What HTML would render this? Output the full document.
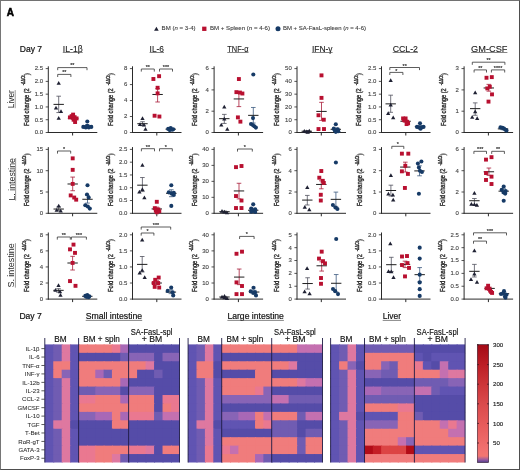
<!DOCTYPE html>
<html><head><meta charset="utf-8"><title>Figure</title>
<style>
html,body{margin:0;padding:0;background:#fff;}
body{width:520px;height:470px;overflow:hidden;}
svg{display:block;font-family:"Liberation Sans",sans-serif;will-change:transform;}
.frame{position:absolute;left:0;top:0;width:520px;height:470px;box-sizing:border-box;border-top:1px solid #727272;border-left:1px solid #767676;border-right:1px solid #4e4e4e;border-bottom:1px solid #4e4e4e;pointer-events:none;}
</style></head><body>
<svg width="520" height="470" viewBox="0 0 520 470" font-family="Liberation Sans, sans-serif">
<rect x="0" y="0" width="520" height="470" fill="#ffffff"/>
<text x="6.8" y="15.5" font-size="10.4" fill="#000" textLength="7.2" lengthAdjust="spacingAndGlyphs" font-weight="bold" stroke="#000" stroke-width="0.55">A</text>
<polygon points="154.1,30.7 158.7,30.7 156.4,26.7" fill="#1f2133"/>
<text x="161.6" y="30.2" font-size="6.2" fill="#3a3a3a" textLength="34" lengthAdjust="spacingAndGlyphs" stroke="#3a3a3a" stroke-width="0.1">BM (<tspan font-style="italic">n</tspan> = 3-4)</text>
<rect x="202.15" y="26.65" width="4.3" height="4.3" fill="#b81030"/>
<text x="210" y="30.2" font-size="6.2" fill="#3a3a3a" textLength="60" lengthAdjust="spacingAndGlyphs" stroke="#3a3a3a" stroke-width="0.1">BM + Spleen (<tspan font-style="italic">n</tspan> = 4-6)</text>
<circle cx="278" cy="28.7" r="2.5" fill="#163a66"/>
<text x="283" y="30.2" font-size="6.2" fill="#3a3a3a" textLength="83" lengthAdjust="spacingAndGlyphs" stroke="#3a3a3a" stroke-width="0.1">BM + SA-FasL-spleen (<tspan font-style="italic">n</tspan> = 4-6)</text>
<text x="19.8" y="51.9" font-size="8.6" fill="#111" textLength="22.3" lengthAdjust="spacingAndGlyphs" stroke="#111" stroke-width="0.2">Day 7</text>
<text x="62.8" y="51.5" font-size="8.5" fill="#1a1a1a" textLength="19.9" lengthAdjust="spacingAndGlyphs" stroke="#1a1a1a" stroke-width="0.1">IL-1β</text>
<line x1="62.8" y1="52.5" x2="82.7" y2="52.5" stroke="#444" stroke-width="0.65"/>
<text x="149.6" y="51.5" font-size="8.5" fill="#1a1a1a" textLength="14.4" lengthAdjust="spacingAndGlyphs" stroke="#1a1a1a" stroke-width="0.1">IL-6</text>
<line x1="149.6" y1="52.5" x2="164" y2="52.5" stroke="#444" stroke-width="0.65"/>
<text x="227.3" y="51.5" font-size="8.5" fill="#1a1a1a" textLength="21.2" lengthAdjust="spacingAndGlyphs" stroke="#1a1a1a" stroke-width="0.1">TNF-α</text>
<line x1="227.3" y1="52.5" x2="248.5" y2="52.5" stroke="#444" stroke-width="0.65"/>
<text x="311.9" y="51.5" font-size="8.5" fill="#1a1a1a" textLength="20.7" lengthAdjust="spacingAndGlyphs" stroke="#1a1a1a" stroke-width="0.1">IFN-γ</text>
<line x1="311.9" y1="52.5" x2="332.6" y2="52.5" stroke="#444" stroke-width="0.65"/>
<text x="392.7" y="51.5" font-size="8.5" fill="#1a1a1a" textLength="25.3" lengthAdjust="spacingAndGlyphs" stroke="#1a1a1a" stroke-width="0.1">CCL-2</text>
<line x1="392.7" y1="52.5" x2="418" y2="52.5" stroke="#444" stroke-width="0.65"/>
<text x="471.1" y="51.5" font-size="8.5" fill="#1a1a1a" textLength="36.3" lengthAdjust="spacingAndGlyphs" stroke="#1a1a1a" stroke-width="0.1">GM-CSF</text>
<line x1="471.1" y1="52.5" x2="507.4" y2="52.5" stroke="#444" stroke-width="0.65"/>
<text transform="translate(14.2,108.2) rotate(-90)" x="0" y="0" font-size="8.6" fill="#2a2a2a" textLength="18.1" lengthAdjust="spacingAndGlyphs">Liver</text>
<line x1="15.2" y1="108.2" x2="15.2" y2="90.1" stroke="#555" stroke-width="0.6"/>
<text transform="translate(14.6,200.6) rotate(-90)" x="0" y="0" font-size="8.6" fill="#2a2a2a" textLength="42.6" lengthAdjust="spacingAndGlyphs">L. intestine</text>
<line x1="15.6" y1="200.6" x2="15.6" y2="158" stroke="#555" stroke-width="0.6"/>
<text transform="translate(14.4,287.6) rotate(-90)" x="0" y="0" font-size="8.6" fill="#2a2a2a" textLength="44.4" lengthAdjust="spacingAndGlyphs">S. intestine</text>
<line x1="15.4" y1="287.6" x2="15.4" y2="243.2" stroke="#555" stroke-width="0.6"/>
<line x1="48.3" y1="66.3" x2="48.3" y2="133" stroke="#2a2a2a" stroke-width="1"/>
<line x1="47.8" y1="132.5" x2="97.3" y2="132.5" stroke="#2a2a2a" stroke-width="1"/>
<line x1="72.6" y1="132.5" x2="72.6" y2="135.5" stroke="#2a2a2a" stroke-width="1"/>
<line x1="45.7" y1="132.5" x2="48.3" y2="132.5" stroke="#2a2a2a" stroke-width="0.8"/>
<text x="43.1" y="134.35" font-size="6" fill="#444" text-anchor="end" stroke="#444" stroke-width="0.12">0.0</text>
<line x1="45.7" y1="119.72" x2="48.3" y2="119.72" stroke="#2a2a2a" stroke-width="0.8"/>
<text x="43.1" y="121.57" font-size="6" fill="#444" text-anchor="end" stroke="#444" stroke-width="0.12">0.5</text>
<line x1="45.7" y1="106.94" x2="48.3" y2="106.94" stroke="#2a2a2a" stroke-width="0.8"/>
<text x="43.1" y="108.79" font-size="6" fill="#444" text-anchor="end" stroke="#444" stroke-width="0.12">1.0</text>
<line x1="45.7" y1="94.16" x2="48.3" y2="94.16" stroke="#2a2a2a" stroke-width="0.8"/>
<text x="43.1" y="96.01" font-size="6" fill="#444" text-anchor="end" stroke="#444" stroke-width="0.12">1.5</text>
<line x1="45.7" y1="81.38" x2="48.3" y2="81.38" stroke="#2a2a2a" stroke-width="0.8"/>
<text x="43.1" y="83.23" font-size="6" fill="#444" text-anchor="end" stroke="#444" stroke-width="0.12">2.0</text>
<line x1="45.7" y1="68.6" x2="48.3" y2="68.6" stroke="#2a2a2a" stroke-width="0.8"/>
<text x="43.1" y="70.45" font-size="6" fill="#444" text-anchor="end" stroke="#444" stroke-width="0.12">2.5</text>
<g transform="translate(28.5,126) rotate(-90)" fill="#333" stroke="#333" stroke-width="0.4">
<text x="0" y="0" font-size="7.8" textLength="37.68" lengthAdjust="spacingAndGlyphs">Fold change (2</text>
<text x="40.7" y="-3.2" font-size="4.6" textLength="9.91" lengthAdjust="spacingAndGlyphs">-ΔΔCt</text>
<text x="50.72" y="0" font-size="7.8" textLength="2.28" lengthAdjust="spacingAndGlyphs">)</text>
</g>
<line x1="58.7" y1="96.2" x2="58.7" y2="112.56" stroke="#50525e" stroke-width="0.8"/>
<line x1="56.4" y1="96.2" x2="61" y2="96.2" stroke="#50525e" stroke-width="0.8"/>
<line x1="56.4" y1="112.56" x2="61" y2="112.56" stroke="#50525e" stroke-width="0.8"/>
<line x1="53.5" y1="104.38" x2="63.9" y2="104.38" stroke="#1e1e1e" stroke-width="1"/>
<line x1="73.1" y1="117.42" x2="73.1" y2="119.46" stroke="#a81c38" stroke-width="0.8"/>
<line x1="70.8" y1="117.42" x2="75.4" y2="117.42" stroke="#a81c38" stroke-width="0.8"/>
<line x1="70.8" y1="119.46" x2="75.4" y2="119.46" stroke="#a81c38" stroke-width="0.8"/>
<line x1="67.9" y1="118.44" x2="78.3" y2="118.44" stroke="#1e1e1e" stroke-width="1"/>
<line x1="87.3" y1="124.83" x2="87.3" y2="126.62" stroke="#3c5a80" stroke-width="0.8"/>
<line x1="85" y1="124.83" x2="89.6" y2="124.83" stroke="#3c5a80" stroke-width="0.8"/>
<line x1="85" y1="126.62" x2="89.6" y2="126.62" stroke="#3c5a80" stroke-width="0.8"/>
<line x1="82.1" y1="125.85" x2="92.5" y2="125.85" stroke="#1e1e1e" stroke-width="1"/>
<polygon points="56.55,84.78 60.85,84.78 58.7,81.04" fill="#1f2133"/>
<polygon points="53.85,109.58 58.15,109.58 56,105.84" fill="#1f2133"/>
<polygon points="58.85,112.9 63.15,112.9 61,109.16" fill="#1f2133"/>
<polygon points="56.55,119.8 60.85,119.8 58.7,116.06" fill="#1f2133"/>
<rect x="71.15" y="112.66" width="3.9" height="3.9" fill="#b81030"/>
<rect x="69.65" y="114.19" width="3.9" height="3.9" fill="#b81030"/>
<rect x="67.95" y="115.47" width="3.9" height="3.9" fill="#b81030"/>
<rect x="72.65" y="115.21" width="3.9" height="3.9" fill="#b81030"/>
<rect x="74.65" y="116.49" width="3.9" height="3.9" fill="#b81030"/>
<rect x="73.15" y="120.07" width="3.9" height="3.9" fill="#b81030"/>
<rect x="71.65" y="117.77" width="3.9" height="3.9" fill="#b81030"/>
<circle cx="87.3" cy="121.51" r="2.05" fill="#163a66"/>
<circle cx="83.3" cy="126.88" r="2.05" fill="#163a66"/>
<circle cx="85.8" cy="127.39" r="2.05" fill="#163a66"/>
<circle cx="88.8" cy="127.39" r="2.05" fill="#163a66"/>
<circle cx="91.3" cy="126.88" r="2.05" fill="#163a66"/>
<circle cx="87.3" cy="125.85" r="2.05" fill="#163a66"/>
<polyline points="57.7,77 57.7,74.4 70.9,74.4 70.9,77" fill="none" stroke="#333" stroke-width="0.8"/>
<text x="64.3" y="73.87" font-size="5.4" fill="#333" text-anchor="middle" stroke="#333" stroke-width="0.18">**</text>
<polyline points="57.7,70.2 57.7,67.6 87,67.6 87,70.2" fill="none" stroke="#333" stroke-width="0.8"/>
<text x="72.35" y="66.77" font-size="5.4" fill="#333" text-anchor="middle" stroke="#333" stroke-width="0.18">**</text>
<line x1="132.5" y1="66.3" x2="132.5" y2="133" stroke="#2a2a2a" stroke-width="1"/>
<line x1="132" y1="132.5" x2="181.5" y2="132.5" stroke="#2a2a2a" stroke-width="1"/>
<line x1="156.8" y1="132.5" x2="156.8" y2="135.5" stroke="#2a2a2a" stroke-width="1"/>
<line x1="129.9" y1="132.5" x2="132.5" y2="132.5" stroke="#2a2a2a" stroke-width="0.8"/>
<text x="127.3" y="134.35" font-size="6" fill="#444" text-anchor="end" stroke="#444" stroke-width="0.12">0</text>
<line x1="129.9" y1="116.53" x2="132.5" y2="116.53" stroke="#2a2a2a" stroke-width="0.8"/>
<text x="127.3" y="118.38" font-size="6" fill="#444" text-anchor="end" stroke="#444" stroke-width="0.12">2</text>
<line x1="129.9" y1="100.55" x2="132.5" y2="100.55" stroke="#2a2a2a" stroke-width="0.8"/>
<text x="127.3" y="102.4" font-size="6" fill="#444" text-anchor="end" stroke="#444" stroke-width="0.12">4</text>
<line x1="129.9" y1="84.57" x2="132.5" y2="84.57" stroke="#2a2a2a" stroke-width="0.8"/>
<text x="127.3" y="86.42" font-size="6" fill="#444" text-anchor="end" stroke="#444" stroke-width="0.12">6</text>
<line x1="129.9" y1="68.6" x2="132.5" y2="68.6" stroke="#2a2a2a" stroke-width="0.8"/>
<text x="127.3" y="70.45" font-size="6" fill="#444" text-anchor="end" stroke="#444" stroke-width="0.12">8</text>
<g transform="translate(112.8,126) rotate(-90)" fill="#333" stroke="#333" stroke-width="0.4">
<text x="0" y="0" font-size="7.8" textLength="37.68" lengthAdjust="spacingAndGlyphs">Fold change (2</text>
<text x="40.7" y="-3.2" font-size="4.6" textLength="9.91" lengthAdjust="spacingAndGlyphs">-ΔΔCt</text>
<text x="50.72" y="0" font-size="7.8" textLength="2.28" lengthAdjust="spacingAndGlyphs">)</text>
</g>
<line x1="142.5" y1="121.72" x2="142.5" y2="125.71" stroke="#50525e" stroke-width="0.8"/>
<line x1="140.2" y1="121.72" x2="144.8" y2="121.72" stroke="#50525e" stroke-width="0.8"/>
<line x1="140.2" y1="125.71" x2="144.8" y2="125.71" stroke="#50525e" stroke-width="0.8"/>
<line x1="137.3" y1="123.71" x2="147.7" y2="123.71" stroke="#1e1e1e" stroke-width="1"/>
<line x1="157.6" y1="88.57" x2="157.6" y2="101.99" stroke="#a81c38" stroke-width="0.8"/>
<line x1="155.3" y1="88.57" x2="159.9" y2="88.57" stroke="#a81c38" stroke-width="0.8"/>
<line x1="155.3" y1="101.99" x2="159.9" y2="101.99" stroke="#a81c38" stroke-width="0.8"/>
<line x1="152.4" y1="94.48" x2="162.8" y2="94.48" stroke="#1e1e1e" stroke-width="1"/>
<line x1="170.7" y1="128.75" x2="170.7" y2="129.54" stroke="#3c5a80" stroke-width="0.8"/>
<line x1="168.4" y1="128.75" x2="173" y2="128.75" stroke="#3c5a80" stroke-width="0.8"/>
<line x1="168.4" y1="129.54" x2="173" y2="129.54" stroke="#3c5a80" stroke-width="0.8"/>
<line x1="165.5" y1="129.15" x2="175.9" y2="129.15" stroke="#1e1e1e" stroke-width="1"/>
<polygon points="140.35,119.99 144.65,119.99 142.5,116.25" fill="#1f2133"/>
<polygon points="137.85,125.98 142.15,125.98 140,122.24" fill="#1f2133"/>
<polygon points="141.85,126.38 146.15,126.38 144,122.64" fill="#1f2133"/>
<polygon points="143.35,130.78 147.65,130.78 145.5,127.04" fill="#1f2133"/>
<rect x="151.45" y="77.03" width="3.9" height="3.9" fill="#b81030"/>
<rect x="157.15" y="74.24" width="3.9" height="3.9" fill="#b81030"/>
<rect x="155.65" y="85.82" width="3.9" height="3.9" fill="#b81030"/>
<rect x="155.65" y="91.41" width="3.9" height="3.9" fill="#b81030"/>
<rect x="152.65" y="113.78" width="3.9" height="3.9" fill="#b81030"/>
<rect x="157.45" y="114.58" width="3.9" height="3.9" fill="#b81030"/>
<circle cx="168.2" cy="128.91" r="2.05" fill="#163a66"/>
<circle cx="170.7" cy="128.11" r="2.05" fill="#163a66"/>
<circle cx="173.2" cy="129.31" r="2.05" fill="#163a66"/>
<circle cx="169.7" cy="130.1" r="2.05" fill="#163a66"/>
<circle cx="172.2" cy="129.7" r="2.05" fill="#163a66"/>
<polyline points="141.3,71.6 141.3,69 154.3,69 154.3,71.6" fill="none" stroke="#333" stroke-width="0.8"/>
<text x="147.8" y="69.07" font-size="5.4" fill="#333" text-anchor="middle" stroke="#333" stroke-width="0.18">**</text>
<polyline points="159.5,71.6 159.5,69 172.5,69 172.5,71.6" fill="none" stroke="#333" stroke-width="0.8"/>
<text x="166" y="69.07" font-size="5.4" fill="#333" text-anchor="middle" stroke="#333" stroke-width="0.18">***</text>
<line x1="214.1" y1="66.3" x2="214.1" y2="133" stroke="#2a2a2a" stroke-width="1"/>
<line x1="213.6" y1="132.5" x2="263.1" y2="132.5" stroke="#2a2a2a" stroke-width="1"/>
<line x1="238.4" y1="132.5" x2="238.4" y2="135.5" stroke="#2a2a2a" stroke-width="1"/>
<line x1="211.5" y1="132.5" x2="214.1" y2="132.5" stroke="#2a2a2a" stroke-width="0.8"/>
<text x="208.9" y="134.35" font-size="6" fill="#444" text-anchor="end" stroke="#444" stroke-width="0.12">0</text>
<line x1="211.5" y1="111.2" x2="214.1" y2="111.2" stroke="#2a2a2a" stroke-width="0.8"/>
<text x="208.9" y="113.05" font-size="6" fill="#444" text-anchor="end" stroke="#444" stroke-width="0.12">2</text>
<line x1="211.5" y1="89.9" x2="214.1" y2="89.9" stroke="#2a2a2a" stroke-width="0.8"/>
<text x="208.9" y="91.75" font-size="6" fill="#444" text-anchor="end" stroke="#444" stroke-width="0.12">4</text>
<line x1="211.5" y1="68.6" x2="214.1" y2="68.6" stroke="#2a2a2a" stroke-width="0.8"/>
<text x="208.9" y="70.45" font-size="6" fill="#444" text-anchor="end" stroke="#444" stroke-width="0.12">6</text>
<g transform="translate(197.1,126) rotate(-90)" fill="#333" stroke="#333" stroke-width="0.4">
<text x="0" y="0" font-size="7.8" textLength="37.68" lengthAdjust="spacingAndGlyphs">Fold change (2</text>
<text x="40.7" y="-3.2" font-size="4.6" textLength="9.91" lengthAdjust="spacingAndGlyphs">-ΔΔCt</text>
<text x="50.72" y="0" font-size="7.8" textLength="2.28" lengthAdjust="spacingAndGlyphs">)</text>
</g>
<line x1="224.3" y1="114.39" x2="224.3" y2="123.45" stroke="#50525e" stroke-width="0.8"/>
<line x1="222" y1="114.39" x2="226.6" y2="114.39" stroke="#50525e" stroke-width="0.8"/>
<line x1="222" y1="123.45" x2="226.6" y2="123.45" stroke="#50525e" stroke-width="0.8"/>
<line x1="219.1" y1="118.66" x2="229.5" y2="118.66" stroke="#1e1e1e" stroke-width="1"/>
<line x1="238.9" y1="92.03" x2="238.9" y2="106.62" stroke="#a81c38" stroke-width="0.8"/>
<line x1="236.6" y1="92.03" x2="241.2" y2="92.03" stroke="#a81c38" stroke-width="0.8"/>
<line x1="236.6" y1="106.62" x2="241.2" y2="106.62" stroke="#a81c38" stroke-width="0.8"/>
<line x1="233.7" y1="98.95" x2="244.1" y2="98.95" stroke="#1e1e1e" stroke-width="1"/>
<line x1="253.3" y1="107.47" x2="253.3" y2="123.02" stroke="#3c5a80" stroke-width="0.8"/>
<line x1="251" y1="107.47" x2="255.6" y2="107.47" stroke="#3c5a80" stroke-width="0.8"/>
<line x1="251" y1="123.02" x2="255.6" y2="123.02" stroke="#3c5a80" stroke-width="0.8"/>
<line x1="248.1" y1="115.35" x2="258.5" y2="115.35" stroke="#1e1e1e" stroke-width="1"/>
<polygon points="222.15,108.49 226.45,108.49 224.3,104.75" fill="#1f2133"/>
<polygon points="219.15,126.6 223.45,126.6 221.3,122.85" fill="#1f2133"/>
<polygon points="225.15,130.64 229.45,130.64 227.3,126.9" fill="#1f2133"/>
<polygon points="222.15,120.53 226.45,120.53 224.3,116.78" fill="#1f2133"/>
<rect x="236.95" y="77.09" width="3.9" height="3.9" fill="#b81030"/>
<rect x="234.45" y="90.19" width="3.9" height="3.9" fill="#b81030"/>
<rect x="237.95" y="90.61" width="3.9" height="3.9" fill="#b81030"/>
<rect x="240.45" y="91.57" width="3.9" height="3.9" fill="#b81030"/>
<rect x="235.95" y="115.43" width="3.9" height="3.9" fill="#b81030"/>
<rect x="238.45" y="119.69" width="3.9" height="3.9" fill="#b81030"/>
<circle cx="253.3" cy="74.46" r="2.05" fill="#163a66"/>
<circle cx="253" cy="118.12" r="2.05" fill="#163a66"/>
<circle cx="251" cy="123.98" r="2.05" fill="#163a66"/>
<circle cx="252.8" cy="125.05" r="2.05" fill="#163a66"/>
<circle cx="254.3" cy="126.32" r="2.05" fill="#163a66"/>
<circle cx="255.9" cy="127.6" r="2.05" fill="#163a66"/>
<line x1="297" y1="66.3" x2="297" y2="133" stroke="#2a2a2a" stroke-width="1"/>
<line x1="296.5" y1="132.5" x2="346" y2="132.5" stroke="#2a2a2a" stroke-width="1"/>
<line x1="321.3" y1="132.5" x2="321.3" y2="135.5" stroke="#2a2a2a" stroke-width="1"/>
<line x1="294.4" y1="132.5" x2="297" y2="132.5" stroke="#2a2a2a" stroke-width="0.8"/>
<text x="291.8" y="134.35" font-size="6" fill="#444" text-anchor="end" stroke="#444" stroke-width="0.12">0</text>
<line x1="294.4" y1="119.72" x2="297" y2="119.72" stroke="#2a2a2a" stroke-width="0.8"/>
<text x="291.8" y="121.57" font-size="6" fill="#444" text-anchor="end" stroke="#444" stroke-width="0.12">10</text>
<line x1="294.4" y1="106.94" x2="297" y2="106.94" stroke="#2a2a2a" stroke-width="0.8"/>
<text x="291.8" y="108.79" font-size="6" fill="#444" text-anchor="end" stroke="#444" stroke-width="0.12">20</text>
<line x1="294.4" y1="94.16" x2="297" y2="94.16" stroke="#2a2a2a" stroke-width="0.8"/>
<text x="291.8" y="96.01" font-size="6" fill="#444" text-anchor="end" stroke="#444" stroke-width="0.12">30</text>
<line x1="294.4" y1="81.38" x2="297" y2="81.38" stroke="#2a2a2a" stroke-width="0.8"/>
<text x="291.8" y="83.23" font-size="6" fill="#444" text-anchor="end" stroke="#444" stroke-width="0.12">40</text>
<line x1="294.4" y1="68.6" x2="297" y2="68.6" stroke="#2a2a2a" stroke-width="0.8"/>
<text x="291.8" y="70.45" font-size="6" fill="#444" text-anchor="end" stroke="#444" stroke-width="0.12">50</text>
<g transform="translate(279.1,126) rotate(-90)" fill="#333" stroke="#333" stroke-width="0.4">
<text x="0" y="0" font-size="7.8" textLength="37.68" lengthAdjust="spacingAndGlyphs">Fold change (2</text>
<text x="40.7" y="-3.2" font-size="4.6" textLength="9.91" lengthAdjust="spacingAndGlyphs">-ΔΔCt</text>
<text x="50.72" y="0" font-size="7.8" textLength="2.28" lengthAdjust="spacingAndGlyphs">)</text>
</g>
<line x1="306.8" y1="130.71" x2="306.8" y2="131.73" stroke="#50525e" stroke-width="0.8"/>
<line x1="304.5" y1="130.71" x2="309.1" y2="130.71" stroke="#50525e" stroke-width="0.8"/>
<line x1="304.5" y1="131.73" x2="309.1" y2="131.73" stroke="#50525e" stroke-width="0.8"/>
<line x1="301.6" y1="131.22" x2="312" y2="131.22" stroke="#1e1e1e" stroke-width="1"/>
<line x1="321.5" y1="102.34" x2="321.5" y2="120.36" stroke="#a81c38" stroke-width="0.8"/>
<line x1="319.2" y1="102.34" x2="323.8" y2="102.34" stroke="#a81c38" stroke-width="0.8"/>
<line x1="319.2" y1="120.36" x2="323.8" y2="120.36" stroke="#a81c38" stroke-width="0.8"/>
<line x1="316.3" y1="111.41" x2="326.7" y2="111.41" stroke="#1e1e1e" stroke-width="1"/>
<line x1="335.8" y1="128.03" x2="335.8" y2="130.58" stroke="#3c5a80" stroke-width="0.8"/>
<line x1="333.5" y1="128.03" x2="338.1" y2="128.03" stroke="#3c5a80" stroke-width="0.8"/>
<line x1="333.5" y1="130.58" x2="338.1" y2="130.58" stroke="#3c5a80" stroke-width="0.8"/>
<line x1="330.6" y1="129.31" x2="341" y2="129.31" stroke="#1e1e1e" stroke-width="1"/>
<polygon points="302.15,132.84 306.45,132.84 304.3,129.1" fill="#1f2133"/>
<polygon points="304.65,133.35 308.95,133.35 306.8,129.61" fill="#1f2133"/>
<polygon points="307.15,132.45 311.45,132.45 309.3,128.71" fill="#1f2133"/>
<polygon points="305.65,133.73 309.95,133.73 307.8,129.99" fill="#1f2133"/>
<rect x="319.55" y="73.42" width="3.9" height="3.9" fill="#b81030"/>
<rect x="319.55" y="95.92" width="3.9" height="3.9" fill="#b81030"/>
<rect x="316.55" y="113.3" width="3.9" height="3.9" fill="#b81030"/>
<rect x="321.85" y="117.77" width="3.9" height="3.9" fill="#b81030"/>
<rect x="316.55" y="127.1" width="3.9" height="3.9" fill="#b81030"/>
<rect x="322.05" y="127.1" width="3.9" height="3.9" fill="#b81030"/>
<circle cx="335.8" cy="124.32" r="2.05" fill="#163a66"/>
<circle cx="333.8" cy="128.67" r="2.05" fill="#163a66"/>
<circle cx="337.8" cy="129.31" r="2.05" fill="#163a66"/>
<circle cx="334.8" cy="130.58" r="2.05" fill="#163a66"/>
<circle cx="338.3" cy="131.22" r="2.05" fill="#163a66"/>
<circle cx="335.8" cy="131.86" r="2.05" fill="#163a66"/>
<line x1="381.5" y1="66.3" x2="381.5" y2="133" stroke="#2a2a2a" stroke-width="1"/>
<line x1="381" y1="132.5" x2="430.5" y2="132.5" stroke="#2a2a2a" stroke-width="1"/>
<line x1="405.8" y1="132.5" x2="405.8" y2="135.5" stroke="#2a2a2a" stroke-width="1"/>
<line x1="378.9" y1="132.5" x2="381.5" y2="132.5" stroke="#2a2a2a" stroke-width="0.8"/>
<text x="376.3" y="134.35" font-size="6" fill="#444" text-anchor="end" stroke="#444" stroke-width="0.12">0.0</text>
<line x1="378.9" y1="119.72" x2="381.5" y2="119.72" stroke="#2a2a2a" stroke-width="0.8"/>
<text x="376.3" y="121.57" font-size="6" fill="#444" text-anchor="end" stroke="#444" stroke-width="0.12">0.5</text>
<line x1="378.9" y1="106.94" x2="381.5" y2="106.94" stroke="#2a2a2a" stroke-width="0.8"/>
<text x="376.3" y="108.79" font-size="6" fill="#444" text-anchor="end" stroke="#444" stroke-width="0.12">1.0</text>
<line x1="378.9" y1="94.16" x2="381.5" y2="94.16" stroke="#2a2a2a" stroke-width="0.8"/>
<text x="376.3" y="96.01" font-size="6" fill="#444" text-anchor="end" stroke="#444" stroke-width="0.12">1.5</text>
<line x1="378.9" y1="81.38" x2="381.5" y2="81.38" stroke="#2a2a2a" stroke-width="0.8"/>
<text x="376.3" y="83.23" font-size="6" fill="#444" text-anchor="end" stroke="#444" stroke-width="0.12">2.0</text>
<line x1="378.9" y1="68.6" x2="381.5" y2="68.6" stroke="#2a2a2a" stroke-width="0.8"/>
<text x="376.3" y="70.45" font-size="6" fill="#444" text-anchor="end" stroke="#444" stroke-width="0.12">2.5</text>
<g transform="translate(361.4,126) rotate(-90)" fill="#333" stroke="#333" stroke-width="0.4">
<text x="0" y="0" font-size="7.8" textLength="37.68" lengthAdjust="spacingAndGlyphs">Fold change (2</text>
<text x="40.7" y="-3.2" font-size="4.6" textLength="9.91" lengthAdjust="spacingAndGlyphs">-ΔΔCt</text>
<text x="50.72" y="0" font-size="7.8" textLength="2.28" lengthAdjust="spacingAndGlyphs">)</text>
</g>
<line x1="390.7" y1="95.18" x2="390.7" y2="112.31" stroke="#50525e" stroke-width="0.8"/>
<line x1="388.4" y1="95.18" x2="393" y2="95.18" stroke="#50525e" stroke-width="0.8"/>
<line x1="388.4" y1="112.31" x2="393" y2="112.31" stroke="#50525e" stroke-width="0.8"/>
<line x1="385.5" y1="103.87" x2="395.9" y2="103.87" stroke="#1e1e1e" stroke-width="1"/>
<line x1="405.6" y1="120.23" x2="405.6" y2="122.28" stroke="#a81c38" stroke-width="0.8"/>
<line x1="403.3" y1="120.23" x2="407.9" y2="120.23" stroke="#a81c38" stroke-width="0.8"/>
<line x1="403.3" y1="122.28" x2="407.9" y2="122.28" stroke="#a81c38" stroke-width="0.8"/>
<line x1="400.4" y1="121.25" x2="410.8" y2="121.25" stroke="#1e1e1e" stroke-width="1"/>
<line x1="420" y1="125.85" x2="420" y2="127.39" stroke="#3c5a80" stroke-width="0.8"/>
<line x1="417.7" y1="125.85" x2="422.3" y2="125.85" stroke="#3c5a80" stroke-width="0.8"/>
<line x1="417.7" y1="127.39" x2="422.3" y2="127.39" stroke="#3c5a80" stroke-width="0.8"/>
<line x1="414.8" y1="126.62" x2="425.2" y2="126.62" stroke="#1e1e1e" stroke-width="1"/>
<polygon points="388.55,81.97 392.85,81.97 390.7,78.23" fill="#1f2133"/>
<polygon points="388.55,106.51 392.85,106.51 390.7,102.77" fill="#1f2133"/>
<polygon points="386.05,115.07 390.35,115.07 388.2,111.33" fill="#1f2133"/>
<polygon points="391.05,119.29 395.35,119.29 393.2,115.55" fill="#1f2133"/>
<rect x="401.15" y="116.49" width="3.9" height="3.9" fill="#b81030"/>
<rect x="403.65" y="116.49" width="3.9" height="3.9" fill="#b81030"/>
<rect x="402.15" y="118.28" width="3.9" height="3.9" fill="#b81030"/>
<rect x="405.15" y="119.81" width="3.9" height="3.9" fill="#b81030"/>
<rect x="406.15" y="121.35" width="3.9" height="3.9" fill="#b81030"/>
<rect x="404.65" y="122.12" width="3.9" height="3.9" fill="#b81030"/>
<circle cx="420" cy="123.3" r="2.05" fill="#163a66"/>
<circle cx="417" cy="126.88" r="2.05" fill="#163a66"/>
<circle cx="419" cy="127.39" r="2.05" fill="#163a66"/>
<circle cx="421.5" cy="127.39" r="2.05" fill="#163a66"/>
<circle cx="423.5" cy="126.88" r="2.05" fill="#163a66"/>
<circle cx="420.5" cy="128.67" r="2.05" fill="#163a66"/>
<polyline points="389.8,75 389.8,72.4 402.9,72.4 402.9,75" fill="none" stroke="#333" stroke-width="0.8"/>
<text x="396.35" y="73.07" font-size="5.4" fill="#333" text-anchor="middle" stroke="#333" stroke-width="0.18">*</text>
<polyline points="389.8,70.1 389.8,67.5 419.5,67.5 419.5,70.1" fill="none" stroke="#333" stroke-width="0.8"/>
<text x="404.65" y="67.57" font-size="5.4" fill="#333" text-anchor="middle" stroke="#333" stroke-width="0.18">**</text>
<line x1="464.1" y1="66.3" x2="464.1" y2="133" stroke="#2a2a2a" stroke-width="1"/>
<line x1="463.6" y1="132.5" x2="513.1" y2="132.5" stroke="#2a2a2a" stroke-width="1"/>
<line x1="488.4" y1="132.5" x2="488.4" y2="135.5" stroke="#2a2a2a" stroke-width="1"/>
<line x1="461.5" y1="132.5" x2="464.1" y2="132.5" stroke="#2a2a2a" stroke-width="0.8"/>
<text x="458.9" y="134.35" font-size="6" fill="#444" text-anchor="end" stroke="#444" stroke-width="0.12">0</text>
<line x1="461.5" y1="111.2" x2="464.1" y2="111.2" stroke="#2a2a2a" stroke-width="0.8"/>
<text x="458.9" y="113.05" font-size="6" fill="#444" text-anchor="end" stroke="#444" stroke-width="0.12">1</text>
<line x1="461.5" y1="89.9" x2="464.1" y2="89.9" stroke="#2a2a2a" stroke-width="0.8"/>
<text x="458.9" y="91.75" font-size="6" fill="#444" text-anchor="end" stroke="#444" stroke-width="0.12">2</text>
<line x1="461.5" y1="68.6" x2="464.1" y2="68.6" stroke="#2a2a2a" stroke-width="0.8"/>
<text x="458.9" y="70.45" font-size="6" fill="#444" text-anchor="end" stroke="#444" stroke-width="0.12">3</text>
<g transform="translate(445.8,126) rotate(-90)" fill="#333" stroke="#333" stroke-width="0.4">
<text x="0" y="0" font-size="7.8" textLength="37.68" lengthAdjust="spacingAndGlyphs">Fold change (2</text>
<text x="40.7" y="-3.2" font-size="4.6" textLength="9.91" lengthAdjust="spacingAndGlyphs">-ΔΔCt</text>
<text x="50.72" y="0" font-size="7.8" textLength="2.28" lengthAdjust="spacingAndGlyphs">)</text>
</g>
<line x1="475.2" y1="102.89" x2="475.2" y2="115.25" stroke="#50525e" stroke-width="0.8"/>
<line x1="472.9" y1="102.89" x2="477.5" y2="102.89" stroke="#50525e" stroke-width="0.8"/>
<line x1="472.9" y1="115.25" x2="477.5" y2="115.25" stroke="#50525e" stroke-width="0.8"/>
<line x1="470" y1="108.64" x2="480.4" y2="108.64" stroke="#1e1e1e" stroke-width="1"/>
<line x1="488.8" y1="84.36" x2="488.8" y2="91.18" stroke="#a81c38" stroke-width="0.8"/>
<line x1="486.5" y1="84.36" x2="491.1" y2="84.36" stroke="#a81c38" stroke-width="0.8"/>
<line x1="486.5" y1="91.18" x2="491.1" y2="91.18" stroke="#a81c38" stroke-width="0.8"/>
<line x1="483.6" y1="87.98" x2="494" y2="87.98" stroke="#1e1e1e" stroke-width="1"/>
<line x1="503" y1="128.24" x2="503" y2="129.73" stroke="#3c5a80" stroke-width="0.8"/>
<line x1="500.7" y1="128.24" x2="505.3" y2="128.24" stroke="#3c5a80" stroke-width="0.8"/>
<line x1="500.7" y1="129.73" x2="505.3" y2="129.73" stroke="#3c5a80" stroke-width="0.8"/>
<line x1="497.8" y1="128.88" x2="508.2" y2="128.88" stroke="#1e1e1e" stroke-width="1"/>
<polygon points="473.05,94.33 477.35,94.33 475.2,90.59" fill="#1f2133"/>
<polygon points="473.05,113.28 477.35,113.28 475.2,109.54" fill="#1f2133"/>
<polygon points="470.05,118.67 474.35,118.67 472.2,114.93" fill="#1f2133"/>
<polygon points="475.05,119.89 479.35,119.89 477.2,116.15" fill="#1f2133"/>
<rect x="484.55" y="75.81" width="3.9" height="3.9" fill="#b81030"/>
<rect x="489.85" y="75.17" width="3.9" height="3.9" fill="#b81030"/>
<rect x="485.35" y="86.46" width="3.9" height="3.9" fill="#b81030"/>
<rect x="487.85" y="84.75" width="3.9" height="3.9" fill="#b81030"/>
<rect x="490.05" y="92.42" width="3.9" height="3.9" fill="#b81030"/>
<rect x="486.55" y="99.66" width="3.9" height="3.9" fill="#b81030"/>
<circle cx="500.5" cy="127.39" r="2.05" fill="#163a66"/>
<circle cx="502.5" cy="127.81" r="2.05" fill="#163a66"/>
<circle cx="504" cy="128.67" r="2.05" fill="#163a66"/>
<circle cx="505.5" cy="129.73" r="2.05" fill="#163a66"/>
<circle cx="506.5" cy="130.58" r="2.05" fill="#163a66"/>
<polyline points="474.1,72.5 474.1,69.9 486.5,69.9 486.5,72.5" fill="none" stroke="#333" stroke-width="0.8"/>
<text x="480.3" y="69.97" font-size="5.4" fill="#333" text-anchor="middle" stroke="#333" stroke-width="0.18">**</text>
<polyline points="491.4,72.5 491.4,69.9 504.7,69.9 504.7,72.5" fill="none" stroke="#333" stroke-width="0.8"/>
<text x="498.05" y="69.97" font-size="5.4" fill="#333" text-anchor="middle" stroke="#333" stroke-width="0.18">****</text>
<polyline points="472.3,64.8 472.3,62.2 504.9,62.2 504.9,64.8" fill="none" stroke="#333" stroke-width="0.8"/>
<text x="488.6" y="62.27" font-size="5.4" fill="#333" text-anchor="middle" stroke="#333" stroke-width="0.18">**</text>
<line x1="48.3" y1="147.1" x2="48.3" y2="213.8" stroke="#2a2a2a" stroke-width="1"/>
<line x1="47.8" y1="213.3" x2="97.3" y2="213.3" stroke="#2a2a2a" stroke-width="1"/>
<line x1="72.6" y1="213.3" x2="72.6" y2="216.3" stroke="#2a2a2a" stroke-width="1"/>
<line x1="45.7" y1="213.3" x2="48.3" y2="213.3" stroke="#2a2a2a" stroke-width="0.8"/>
<text x="43.1" y="215.15" font-size="6" fill="#444" text-anchor="end" stroke="#444" stroke-width="0.12">0</text>
<line x1="45.7" y1="192" x2="48.3" y2="192" stroke="#2a2a2a" stroke-width="0.8"/>
<text x="43.1" y="193.85" font-size="6" fill="#444" text-anchor="end" stroke="#444" stroke-width="0.12">5</text>
<line x1="45.7" y1="170.7" x2="48.3" y2="170.7" stroke="#2a2a2a" stroke-width="0.8"/>
<text x="43.1" y="172.55" font-size="6" fill="#444" text-anchor="end" stroke="#444" stroke-width="0.12">10</text>
<line x1="45.7" y1="149.4" x2="48.3" y2="149.4" stroke="#2a2a2a" stroke-width="0.8"/>
<text x="43.1" y="151.25" font-size="6" fill="#444" text-anchor="end" stroke="#444" stroke-width="0.12">15</text>
<g transform="translate(28.8,206.2) rotate(-90)" fill="#333" stroke="#333" stroke-width="0.4">
<text x="0" y="0" font-size="7.8" textLength="37.68" lengthAdjust="spacingAndGlyphs">Fold change (2</text>
<text x="40.7" y="-3.2" font-size="4.6" textLength="9.91" lengthAdjust="spacingAndGlyphs">-ΔΔCt</text>
<text x="50.72" y="0" font-size="7.8" textLength="2.28" lengthAdjust="spacingAndGlyphs">)</text>
</g>
<line x1="58.7" y1="206.91" x2="58.7" y2="210.32" stroke="#50525e" stroke-width="0.8"/>
<line x1="56.4" y1="206.91" x2="61" y2="206.91" stroke="#50525e" stroke-width="0.8"/>
<line x1="56.4" y1="210.32" x2="61" y2="210.32" stroke="#50525e" stroke-width="0.8"/>
<line x1="53.5" y1="209.04" x2="63.9" y2="209.04" stroke="#1e1e1e" stroke-width="1"/>
<line x1="72.7" y1="177.09" x2="72.7" y2="190.72" stroke="#a81c38" stroke-width="0.8"/>
<line x1="70.4" y1="177.09" x2="75" y2="177.09" stroke="#a81c38" stroke-width="0.8"/>
<line x1="70.4" y1="190.72" x2="75" y2="190.72" stroke="#a81c38" stroke-width="0.8"/>
<line x1="67.5" y1="183.99" x2="77.9" y2="183.99" stroke="#1e1e1e" stroke-width="1"/>
<line x1="87.5" y1="195.41" x2="87.5" y2="203.08" stroke="#3c5a80" stroke-width="0.8"/>
<line x1="85.2" y1="195.41" x2="89.8" y2="195.41" stroke="#3c5a80" stroke-width="0.8"/>
<line x1="85.2" y1="203.08" x2="89.8" y2="203.08" stroke="#3c5a80" stroke-width="0.8"/>
<line x1="82.3" y1="199.28" x2="92.7" y2="199.28" stroke="#1e1e1e" stroke-width="1"/>
<polygon points="56.55,207.5 60.85,207.5 58.7,203.76" fill="#1f2133"/>
<polygon points="54.55,211.76 58.85,211.76 56.7,208.02" fill="#1f2133"/>
<polygon points="58.55,212.61 62.85,212.61 60.7,208.87" fill="#1f2133"/>
<rect x="70.75" y="156.4" width="3.9" height="3.9" fill="#b81030"/>
<rect x="70.75" y="167.9" width="3.9" height="3.9" fill="#b81030"/>
<rect x="70.75" y="181.96" width="3.9" height="3.9" fill="#b81030"/>
<rect x="68.75" y="193.46" width="3.9" height="3.9" fill="#b81030"/>
<rect x="72.25" y="195.59" width="3.9" height="3.9" fill="#b81030"/>
<rect x="74.25" y="197.72" width="3.9" height="3.9" fill="#b81030"/>
<circle cx="87.5" cy="185.18" r="2.05" fill="#163a66"/>
<circle cx="87" cy="194.56" r="2.05" fill="#163a66"/>
<circle cx="88.7" cy="197.54" r="2.05" fill="#163a66"/>
<circle cx="85.3" cy="205.21" r="2.05" fill="#163a66"/>
<circle cx="87.8" cy="206.48" r="2.05" fill="#163a66"/>
<circle cx="89.8" cy="208.61" r="2.05" fill="#163a66"/>
<polyline points="57.5,153.6 57.5,151 70.7,151 70.7,153.6" fill="none" stroke="#333" stroke-width="0.8"/>
<text x="64.1" y="151.07" font-size="5.4" fill="#333" text-anchor="middle" stroke="#333" stroke-width="0.18">*</text>
<line x1="132.5" y1="147.1" x2="132.5" y2="213.8" stroke="#2a2a2a" stroke-width="1"/>
<line x1="132" y1="213.3" x2="181.5" y2="213.3" stroke="#2a2a2a" stroke-width="1"/>
<line x1="156.8" y1="213.3" x2="156.8" y2="216.3" stroke="#2a2a2a" stroke-width="1"/>
<line x1="129.9" y1="213.3" x2="132.5" y2="213.3" stroke="#2a2a2a" stroke-width="0.8"/>
<text x="127.3" y="215.15" font-size="6" fill="#444" text-anchor="end" stroke="#444" stroke-width="0.12">0.0</text>
<line x1="129.9" y1="200.52" x2="132.5" y2="200.52" stroke="#2a2a2a" stroke-width="0.8"/>
<text x="127.3" y="202.37" font-size="6" fill="#444" text-anchor="end" stroke="#444" stroke-width="0.12">0.5</text>
<line x1="129.9" y1="187.74" x2="132.5" y2="187.74" stroke="#2a2a2a" stroke-width="0.8"/>
<text x="127.3" y="189.59" font-size="6" fill="#444" text-anchor="end" stroke="#444" stroke-width="0.12">1.0</text>
<line x1="129.9" y1="174.96" x2="132.5" y2="174.96" stroke="#2a2a2a" stroke-width="0.8"/>
<text x="127.3" y="176.81" font-size="6" fill="#444" text-anchor="end" stroke="#444" stroke-width="0.12">1.5</text>
<line x1="129.9" y1="162.18" x2="132.5" y2="162.18" stroke="#2a2a2a" stroke-width="0.8"/>
<text x="127.3" y="164.03" font-size="6" fill="#444" text-anchor="end" stroke="#444" stroke-width="0.12">2.0</text>
<line x1="129.9" y1="149.4" x2="132.5" y2="149.4" stroke="#2a2a2a" stroke-width="0.8"/>
<text x="127.3" y="151.25" font-size="6" fill="#444" text-anchor="end" stroke="#444" stroke-width="0.12">2.5</text>
<g transform="translate(113.1,206.2) rotate(-90)" fill="#333" stroke="#333" stroke-width="0.4">
<text x="0" y="0" font-size="7.8" textLength="37.68" lengthAdjust="spacingAndGlyphs">Fold change (2</text>
<text x="40.7" y="-3.2" font-size="4.6" textLength="9.91" lengthAdjust="spacingAndGlyphs">-ΔΔCt</text>
<text x="50.72" y="0" font-size="7.8" textLength="2.28" lengthAdjust="spacingAndGlyphs">)</text>
</g>
<line x1="142.4" y1="177.52" x2="142.4" y2="191.57" stroke="#50525e" stroke-width="0.8"/>
<line x1="140.1" y1="177.52" x2="144.7" y2="177.52" stroke="#50525e" stroke-width="0.8"/>
<line x1="140.1" y1="191.57" x2="144.7" y2="191.57" stroke="#50525e" stroke-width="0.8"/>
<line x1="137.2" y1="185.18" x2="147.6" y2="185.18" stroke="#1e1e1e" stroke-width="1"/>
<line x1="156.8" y1="207.17" x2="156.8" y2="210.74" stroke="#a81c38" stroke-width="0.8"/>
<line x1="154.5" y1="207.17" x2="159.1" y2="207.17" stroke="#a81c38" stroke-width="0.8"/>
<line x1="154.5" y1="210.74" x2="159.1" y2="210.74" stroke="#a81c38" stroke-width="0.8"/>
<line x1="151.6" y1="208.95" x2="162" y2="208.95" stroke="#1e1e1e" stroke-width="1"/>
<line x1="171.3" y1="189.78" x2="171.3" y2="196.69" stroke="#3c5a80" stroke-width="0.8"/>
<line x1="169" y1="189.78" x2="173.6" y2="189.78" stroke="#3c5a80" stroke-width="0.8"/>
<line x1="169" y1="196.69" x2="173.6" y2="196.69" stroke="#3c5a80" stroke-width="0.8"/>
<line x1="166.1" y1="193.36" x2="176.5" y2="193.36" stroke="#1e1e1e" stroke-width="1"/>
<polygon points="140.25,166.86 144.55,166.86 142.4,163.12" fill="#1f2133"/>
<polygon points="140.25,190.89 144.55,190.89 142.4,187.15" fill="#1f2133"/>
<polygon points="137.25,193.44 141.55,193.44 139.4,189.7" fill="#1f2133"/>
<polygon points="142.25,199.32 146.55,199.32 144.4,195.58" fill="#1f2133"/>
<rect x="154.85" y="199.85" width="3.9" height="3.9" fill="#b81030"/>
<rect x="152.85" y="206.24" width="3.9" height="3.9" fill="#b81030"/>
<rect x="156.35" y="207.52" width="3.9" height="3.9" fill="#b81030"/>
<rect x="153.85" y="208.79" width="3.9" height="3.9" fill="#b81030"/>
<rect x="157.35" y="209.31" width="3.9" height="3.9" fill="#b81030"/>
<rect x="154.85" y="210.33" width="3.9" height="3.9" fill="#b81030"/>
<circle cx="171.3" cy="185.18" r="2.05" fill="#163a66"/>
<circle cx="168.8" cy="192.34" r="2.05" fill="#163a66"/>
<circle cx="171.3" cy="193.36" r="2.05" fill="#163a66"/>
<circle cx="173.8" cy="192.85" r="2.05" fill="#163a66"/>
<circle cx="173.8" cy="194.9" r="2.05" fill="#163a66"/>
<circle cx="171.3" cy="205.89" r="2.05" fill="#163a66"/>
<polyline points="141.4,151.3 141.4,148.7 154.5,148.7 154.5,151.3" fill="none" stroke="#333" stroke-width="0.8"/>
<text x="147.95" y="148.77" font-size="5.4" fill="#333" text-anchor="middle" stroke="#333" stroke-width="0.18">**</text>
<polyline points="159.5,151.3 159.5,148.7 172.3,148.7 172.3,151.3" fill="none" stroke="#333" stroke-width="0.8"/>
<text x="165.9" y="148.77" font-size="5.4" fill="#333" text-anchor="middle" stroke="#333" stroke-width="0.18">*</text>
<line x1="214.1" y1="147.1" x2="214.1" y2="213.8" stroke="#2a2a2a" stroke-width="1"/>
<line x1="213.6" y1="213.3" x2="263.1" y2="213.3" stroke="#2a2a2a" stroke-width="1"/>
<line x1="238.4" y1="213.3" x2="238.4" y2="216.3" stroke="#2a2a2a" stroke-width="1"/>
<line x1="211.5" y1="213.3" x2="214.1" y2="213.3" stroke="#2a2a2a" stroke-width="0.8"/>
<text x="208.9" y="215.15" font-size="6" fill="#444" text-anchor="end" stroke="#444" stroke-width="0.12">0</text>
<line x1="211.5" y1="197.33" x2="214.1" y2="197.33" stroke="#2a2a2a" stroke-width="0.8"/>
<text x="208.9" y="199.18" font-size="6" fill="#444" text-anchor="end" stroke="#444" stroke-width="0.12">10</text>
<line x1="211.5" y1="181.35" x2="214.1" y2="181.35" stroke="#2a2a2a" stroke-width="0.8"/>
<text x="208.9" y="183.2" font-size="6" fill="#444" text-anchor="end" stroke="#444" stroke-width="0.12">20</text>
<line x1="211.5" y1="165.38" x2="214.1" y2="165.38" stroke="#2a2a2a" stroke-width="0.8"/>
<text x="208.9" y="167.22" font-size="6" fill="#444" text-anchor="end" stroke="#444" stroke-width="0.12">30</text>
<line x1="211.5" y1="149.4" x2="214.1" y2="149.4" stroke="#2a2a2a" stroke-width="0.8"/>
<text x="208.9" y="151.25" font-size="6" fill="#444" text-anchor="end" stroke="#444" stroke-width="0.12">40</text>
<g transform="translate(196.5,206.2) rotate(-90)" fill="#333" stroke="#333" stroke-width="0.4">
<text x="0" y="0" font-size="7.8" textLength="37.68" lengthAdjust="spacingAndGlyphs">Fold change (2</text>
<text x="40.7" y="-3.2" font-size="4.6" textLength="9.91" lengthAdjust="spacingAndGlyphs">-ΔΔCt</text>
<text x="50.72" y="0" font-size="7.8" textLength="2.28" lengthAdjust="spacingAndGlyphs">)</text>
</g>
<line x1="224.5" y1="211.06" x2="224.5" y2="212.34" stroke="#50525e" stroke-width="0.8"/>
<line x1="222.2" y1="211.06" x2="226.8" y2="211.06" stroke="#50525e" stroke-width="0.8"/>
<line x1="222.2" y1="212.34" x2="226.8" y2="212.34" stroke="#50525e" stroke-width="0.8"/>
<line x1="219.3" y1="211.7" x2="229.7" y2="211.7" stroke="#1e1e1e" stroke-width="1"/>
<line x1="239" y1="183.27" x2="239" y2="198.92" stroke="#a81c38" stroke-width="0.8"/>
<line x1="236.7" y1="183.27" x2="241.3" y2="183.27" stroke="#a81c38" stroke-width="0.8"/>
<line x1="236.7" y1="198.92" x2="241.3" y2="198.92" stroke="#a81c38" stroke-width="0.8"/>
<line x1="233.8" y1="190.94" x2="244.2" y2="190.94" stroke="#1e1e1e" stroke-width="1"/>
<line x1="253.2" y1="208.35" x2="253.2" y2="211.22" stroke="#3c5a80" stroke-width="0.8"/>
<line x1="250.9" y1="208.35" x2="255.5" y2="208.35" stroke="#3c5a80" stroke-width="0.8"/>
<line x1="250.9" y1="211.22" x2="255.5" y2="211.22" stroke="#3c5a80" stroke-width="0.8"/>
<line x1="248" y1="210.26" x2="258.4" y2="210.26" stroke="#1e1e1e" stroke-width="1"/>
<polygon points="219.85,212.77 224.15,212.77 222,209.03" fill="#1f2133"/>
<polygon points="222.35,213.57 226.65,213.57 224.5,209.83" fill="#1f2133"/>
<polygon points="224.85,214.37 229.15,214.37 227,210.63" fill="#1f2133"/>
<rect x="234.05" y="165.18" width="3.9" height="3.9" fill="#b81030"/>
<rect x="239.55" y="164.06" width="3.9" height="3.9" fill="#b81030"/>
<rect x="234.05" y="194.1" width="3.9" height="3.9" fill="#b81030"/>
<rect x="239.55" y="198.57" width="3.9" height="3.9" fill="#b81030"/>
<rect x="234.05" y="206.08" width="3.9" height="3.9" fill="#b81030"/>
<rect x="239.55" y="206.08" width="3.9" height="3.9" fill="#b81030"/>
<circle cx="253.2" cy="204.35" r="2.05" fill="#163a66"/>
<circle cx="251.2" cy="208.51" r="2.05" fill="#163a66"/>
<circle cx="255.2" cy="209.31" r="2.05" fill="#163a66"/>
<circle cx="253.2" cy="210.9" r="2.05" fill="#163a66"/>
<circle cx="251.2" cy="211.7" r="2.05" fill="#163a66"/>
<circle cx="255.2" cy="212.02" r="2.05" fill="#163a66"/>
<polyline points="237.5,151.6 237.5,149 252.3,149 252.3,151.6" fill="none" stroke="#333" stroke-width="0.8"/>
<text x="244.9" y="149.07" font-size="5.4" fill="#333" text-anchor="middle" stroke="#333" stroke-width="0.18">*</text>
<line x1="297" y1="147.1" x2="297" y2="213.8" stroke="#2a2a2a" stroke-width="1"/>
<line x1="296.5" y1="213.3" x2="346" y2="213.3" stroke="#2a2a2a" stroke-width="1"/>
<line x1="321.3" y1="213.3" x2="321.3" y2="216.3" stroke="#2a2a2a" stroke-width="1"/>
<line x1="294.4" y1="213.3" x2="297" y2="213.3" stroke="#2a2a2a" stroke-width="0.8"/>
<text x="291.8" y="215.15" font-size="6" fill="#444" text-anchor="end" stroke="#444" stroke-width="0.12">0</text>
<line x1="294.4" y1="192" x2="297" y2="192" stroke="#2a2a2a" stroke-width="0.8"/>
<text x="291.8" y="193.85" font-size="6" fill="#444" text-anchor="end" stroke="#444" stroke-width="0.12">2</text>
<line x1="294.4" y1="170.7" x2="297" y2="170.7" stroke="#2a2a2a" stroke-width="0.8"/>
<text x="291.8" y="172.55" font-size="6" fill="#444" text-anchor="end" stroke="#444" stroke-width="0.12">4</text>
<line x1="294.4" y1="149.4" x2="297" y2="149.4" stroke="#2a2a2a" stroke-width="0.8"/>
<text x="291.8" y="151.25" font-size="6" fill="#444" text-anchor="end" stroke="#444" stroke-width="0.12">6</text>
<g transform="translate(279.1,206.2) rotate(-90)" fill="#333" stroke="#333" stroke-width="0.4">
<text x="0" y="0" font-size="7.8" textLength="37.68" lengthAdjust="spacingAndGlyphs">Fold change (2</text>
<text x="40.7" y="-3.2" font-size="4.6" textLength="9.91" lengthAdjust="spacingAndGlyphs">-ΔΔCt</text>
<text x="50.72" y="0" font-size="7.8" textLength="2.28" lengthAdjust="spacingAndGlyphs">)</text>
</g>
<line x1="307.3" y1="195.41" x2="307.3" y2="204.99" stroke="#50525e" stroke-width="0.8"/>
<line x1="305" y1="195.41" x2="309.6" y2="195.41" stroke="#50525e" stroke-width="0.8"/>
<line x1="305" y1="204.99" x2="309.6" y2="204.99" stroke="#50525e" stroke-width="0.8"/>
<line x1="302.1" y1="200.09" x2="312.5" y2="200.09" stroke="#1e1e1e" stroke-width="1"/>
<line x1="321.3" y1="180.82" x2="321.3" y2="188.81" stroke="#a81c38" stroke-width="0.8"/>
<line x1="319" y1="180.82" x2="323.6" y2="180.82" stroke="#a81c38" stroke-width="0.8"/>
<line x1="319" y1="188.81" x2="323.6" y2="188.81" stroke="#a81c38" stroke-width="0.8"/>
<line x1="316.1" y1="184.44" x2="326.5" y2="184.44" stroke="#1e1e1e" stroke-width="1"/>
<line x1="335.9" y1="192.11" x2="335.9" y2="206.38" stroke="#3c5a80" stroke-width="0.8"/>
<line x1="333.6" y1="192.11" x2="338.2" y2="192.11" stroke="#3c5a80" stroke-width="0.8"/>
<line x1="333.6" y1="206.38" x2="338.2" y2="206.38" stroke="#3c5a80" stroke-width="0.8"/>
<line x1="330.7" y1="199.35" x2="341.1" y2="199.35" stroke="#1e1e1e" stroke-width="1"/>
<polygon points="305.15,189.08 309.45,189.08 307.3,185.34" fill="#1f2133"/>
<polygon points="302.65,208.67 306.95,208.67 304.8,204.93" fill="#1f2133"/>
<polygon points="307.15,211.23 311.45,211.23 309.3,207.49" fill="#1f2133"/>
<rect x="319.35" y="169.07" width="3.9" height="3.9" fill="#b81030"/>
<rect x="317.35" y="175.78" width="3.9" height="3.9" fill="#b81030"/>
<rect x="320.85" y="178.87" width="3.9" height="3.9" fill="#b81030"/>
<rect x="321.85" y="181" width="3.9" height="3.9" fill="#b81030"/>
<rect x="318.85" y="192.82" width="3.9" height="3.9" fill="#b81030"/>
<rect x="318.85" y="198.57" width="3.9" height="3.9" fill="#b81030"/>
<circle cx="335.9" cy="162.5" r="2.05" fill="#163a66"/>
<circle cx="332.9" cy="204.99" r="2.05" fill="#163a66"/>
<circle cx="335.4" cy="207.44" r="2.05" fill="#163a66"/>
<circle cx="337.4" cy="209.04" r="2.05" fill="#163a66"/>
<line x1="381.5" y1="147.1" x2="381.5" y2="213.8" stroke="#2a2a2a" stroke-width="1"/>
<line x1="381" y1="213.3" x2="430.5" y2="213.3" stroke="#2a2a2a" stroke-width="1"/>
<line x1="405.8" y1="213.3" x2="405.8" y2="216.3" stroke="#2a2a2a" stroke-width="1"/>
<line x1="378.9" y1="213.3" x2="381.5" y2="213.3" stroke="#2a2a2a" stroke-width="0.8"/>
<text x="376.3" y="215.15" font-size="6" fill="#444" text-anchor="end" stroke="#444" stroke-width="0.12">0</text>
<line x1="378.9" y1="192" x2="381.5" y2="192" stroke="#2a2a2a" stroke-width="0.8"/>
<text x="376.3" y="193.85" font-size="6" fill="#444" text-anchor="end" stroke="#444" stroke-width="0.12">1</text>
<line x1="378.9" y1="170.7" x2="381.5" y2="170.7" stroke="#2a2a2a" stroke-width="0.8"/>
<text x="376.3" y="172.55" font-size="6" fill="#444" text-anchor="end" stroke="#444" stroke-width="0.12">2</text>
<line x1="378.9" y1="149.4" x2="381.5" y2="149.4" stroke="#2a2a2a" stroke-width="0.8"/>
<text x="376.3" y="151.25" font-size="6" fill="#444" text-anchor="end" stroke="#444" stroke-width="0.12">3</text>
<g transform="translate(361.7,206.2) rotate(-90)" fill="#333" stroke="#333" stroke-width="0.4">
<text x="0" y="0" font-size="7.8" textLength="37.68" lengthAdjust="spacingAndGlyphs">Fold change (2</text>
<text x="40.7" y="-3.2" font-size="4.6" textLength="9.91" lengthAdjust="spacingAndGlyphs">-ΔΔCt</text>
<text x="50.72" y="0" font-size="7.8" textLength="2.28" lengthAdjust="spacingAndGlyphs">)</text>
</g>
<line x1="390.9" y1="185.18" x2="390.9" y2="196.05" stroke="#50525e" stroke-width="0.8"/>
<line x1="388.6" y1="185.18" x2="393.2" y2="185.18" stroke="#50525e" stroke-width="0.8"/>
<line x1="388.6" y1="196.05" x2="393.2" y2="196.05" stroke="#50525e" stroke-width="0.8"/>
<line x1="385.7" y1="190.51" x2="396.1" y2="190.51" stroke="#1e1e1e" stroke-width="1"/>
<line x1="405.3" y1="162.18" x2="405.3" y2="171.98" stroke="#a81c38" stroke-width="0.8"/>
<line x1="403" y1="162.18" x2="407.6" y2="162.18" stroke="#a81c38" stroke-width="0.8"/>
<line x1="403" y1="171.98" x2="407.6" y2="171.98" stroke="#a81c38" stroke-width="0.8"/>
<line x1="400.1" y1="167.08" x2="410.5" y2="167.08" stroke="#1e1e1e" stroke-width="1"/>
<line x1="419.5" y1="165.8" x2="419.5" y2="175.81" stroke="#3c5a80" stroke-width="0.8"/>
<line x1="417.2" y1="165.8" x2="421.8" y2="165.8" stroke="#3c5a80" stroke-width="0.8"/>
<line x1="417.2" y1="175.81" x2="421.8" y2="175.81" stroke="#3c5a80" stroke-width="0.8"/>
<line x1="414.3" y1="170.91" x2="424.7" y2="170.91" stroke="#1e1e1e" stroke-width="1"/>
<polygon points="388.75,177.04 393.05,177.04 390.9,173.3" fill="#1f2133"/>
<polygon points="386.25,195.57 390.55,195.57 388.4,191.83" fill="#1f2133"/>
<polygon points="390.75,196.43 395.05,196.43 392.9,192.69" fill="#1f2133"/>
<polygon points="391.05,201.54 395.35,201.54 393.2,197.8" fill="#1f2133"/>
<rect x="399.95" y="151.71" width="3.9" height="3.9" fill="#b81030"/>
<rect x="406.35" y="151.71" width="3.9" height="3.9" fill="#b81030"/>
<rect x="403.35" y="163.85" width="3.9" height="3.9" fill="#b81030"/>
<rect x="399.95" y="169.39" width="3.9" height="3.9" fill="#b81030"/>
<rect x="405.95" y="171.95" width="3.9" height="3.9" fill="#b81030"/>
<rect x="402.95" y="186" width="3.9" height="3.9" fill="#b81030"/>
<circle cx="421.4" cy="161.54" r="2.05" fill="#163a66"/>
<circle cx="417.9" cy="163.46" r="2.05" fill="#163a66"/>
<circle cx="418.9" cy="167.5" r="2.05" fill="#163a66"/>
<circle cx="421.9" cy="171.98" r="2.05" fill="#163a66"/>
<circle cx="419.9" cy="170.7" r="2.05" fill="#163a66"/>
<circle cx="418.9" cy="193.7" r="2.05" fill="#163a66"/>
<polyline points="391.8,148.9 391.8,146.3 403.8,146.3 403.8,148.9" fill="none" stroke="#333" stroke-width="0.8"/>
<text x="397.8" y="146.37" font-size="5.4" fill="#333" text-anchor="middle" stroke="#333" stroke-width="0.18">*</text>
<line x1="464.1" y1="147.1" x2="464.1" y2="213.8" stroke="#2a2a2a" stroke-width="1"/>
<line x1="463.6" y1="213.3" x2="513.1" y2="213.3" stroke="#2a2a2a" stroke-width="1"/>
<line x1="488.4" y1="213.3" x2="488.4" y2="216.3" stroke="#2a2a2a" stroke-width="1"/>
<line x1="461.5" y1="213.3" x2="464.1" y2="213.3" stroke="#2a2a2a" stroke-width="0.8"/>
<text x="458.9" y="215.15" font-size="6" fill="#444" text-anchor="end" stroke="#444" stroke-width="0.12">0</text>
<line x1="461.5" y1="192" x2="464.1" y2="192" stroke="#2a2a2a" stroke-width="0.8"/>
<text x="458.9" y="193.85" font-size="6" fill="#444" text-anchor="end" stroke="#444" stroke-width="0.12">2</text>
<line x1="461.5" y1="170.7" x2="464.1" y2="170.7" stroke="#2a2a2a" stroke-width="0.8"/>
<text x="458.9" y="172.55" font-size="6" fill="#444" text-anchor="end" stroke="#444" stroke-width="0.12">4</text>
<line x1="461.5" y1="149.4" x2="464.1" y2="149.4" stroke="#2a2a2a" stroke-width="0.8"/>
<text x="458.9" y="151.25" font-size="6" fill="#444" text-anchor="end" stroke="#444" stroke-width="0.12">6</text>
<g transform="translate(445.4,206.2) rotate(-90)" fill="#333" stroke="#333" stroke-width="0.4">
<text x="0" y="0" font-size="7.8" textLength="37.68" lengthAdjust="spacingAndGlyphs">Fold change (2</text>
<text x="40.7" y="-3.2" font-size="4.6" textLength="9.91" lengthAdjust="spacingAndGlyphs">-ΔΔCt</text>
<text x="50.72" y="0" font-size="7.8" textLength="2.28" lengthAdjust="spacingAndGlyphs">)</text>
</g>
<line x1="474.4" y1="198.5" x2="474.4" y2="204.78" stroke="#50525e" stroke-width="0.8"/>
<line x1="472.1" y1="198.5" x2="476.7" y2="198.5" stroke="#50525e" stroke-width="0.8"/>
<line x1="472.1" y1="204.78" x2="476.7" y2="204.78" stroke="#50525e" stroke-width="0.8"/>
<line x1="469.2" y1="200.73" x2="479.6" y2="200.73" stroke="#1e1e1e" stroke-width="1"/>
<line x1="488.9" y1="168.04" x2="488.9" y2="175.39" stroke="#a81c38" stroke-width="0.8"/>
<line x1="486.6" y1="168.04" x2="491.2" y2="168.04" stroke="#a81c38" stroke-width="0.8"/>
<line x1="486.6" y1="175.39" x2="491.2" y2="175.39" stroke="#a81c38" stroke-width="0.8"/>
<line x1="483.7" y1="171.77" x2="494.1" y2="171.77" stroke="#1e1e1e" stroke-width="1"/>
<line x1="503.7" y1="188.81" x2="503.7" y2="193.06" stroke="#3c5a80" stroke-width="0.8"/>
<line x1="501.4" y1="188.81" x2="506" y2="188.81" stroke="#3c5a80" stroke-width="0.8"/>
<line x1="501.4" y1="193.06" x2="506" y2="193.06" stroke="#3c5a80" stroke-width="0.8"/>
<line x1="498.5" y1="191.15" x2="508.9" y2="191.15" stroke="#1e1e1e" stroke-width="1"/>
<polygon points="472.25,194.72 476.55,194.72 474.4,190.98" fill="#1f2133"/>
<polygon points="469.25,205.8 473.55,205.8 471.4,202.06" fill="#1f2133"/>
<polygon points="474.75,206.86 479.05,206.86 476.9,203.12" fill="#1f2133"/>
<polygon points="472.25,206.12 476.55,206.12 474.4,202.38" fill="#1f2133"/>
<rect x="484.05" y="157.67" width="3.9" height="3.9" fill="#b81030"/>
<rect x="489.55" y="155.22" width="3.9" height="3.9" fill="#b81030"/>
<rect x="484.05" y="171.09" width="3.9" height="3.9" fill="#b81030"/>
<rect x="489.55" y="174.71" width="3.9" height="3.9" fill="#b81030"/>
<rect x="484.05" y="178.02" width="3.9" height="3.9" fill="#b81030"/>
<rect x="489.55" y="182.06" width="3.9" height="3.9" fill="#b81030"/>
<circle cx="503.7" cy="186.46" r="2.05" fill="#163a66"/>
<circle cx="501.7" cy="189.87" r="2.05" fill="#163a66"/>
<circle cx="505.7" cy="190.94" r="2.05" fill="#163a66"/>
<circle cx="503.7" cy="192.53" r="2.05" fill="#163a66"/>
<circle cx="505.2" cy="193.6" r="2.05" fill="#163a66"/>
<circle cx="503.7" cy="200.73" r="2.05" fill="#163a66"/>
<polyline points="473.9,153.9 473.9,151.3 486.5,151.3 486.5,153.9" fill="none" stroke="#333" stroke-width="0.8"/>
<text x="480.2" y="151.37" font-size="5.4" fill="#333" text-anchor="middle" stroke="#333" stroke-width="0.18">***</text>
<polyline points="491.7,153.9 491.7,151.3 504.4,151.3 504.4,153.9" fill="none" stroke="#333" stroke-width="0.8"/>
<text x="498.05" y="151.37" font-size="5.4" fill="#333" text-anchor="middle" stroke="#333" stroke-width="0.18">**</text>
<line x1="48.3" y1="232.5" x2="48.3" y2="299.6" stroke="#2a2a2a" stroke-width="1"/>
<line x1="47.8" y1="299.1" x2="97.3" y2="299.1" stroke="#2a2a2a" stroke-width="1"/>
<line x1="72.6" y1="299.1" x2="72.6" y2="302.1" stroke="#2a2a2a" stroke-width="1"/>
<line x1="45.7" y1="299.1" x2="48.3" y2="299.1" stroke="#2a2a2a" stroke-width="0.8"/>
<text x="43.1" y="300.95" font-size="6" fill="#444" text-anchor="end" stroke="#444" stroke-width="0.12">0</text>
<line x1="45.7" y1="283.03" x2="48.3" y2="283.03" stroke="#2a2a2a" stroke-width="0.8"/>
<text x="43.1" y="284.88" font-size="6" fill="#444" text-anchor="end" stroke="#444" stroke-width="0.12">2</text>
<line x1="45.7" y1="266.95" x2="48.3" y2="266.95" stroke="#2a2a2a" stroke-width="0.8"/>
<text x="43.1" y="268.8" font-size="6" fill="#444" text-anchor="end" stroke="#444" stroke-width="0.12">4</text>
<line x1="45.7" y1="250.88" x2="48.3" y2="250.88" stroke="#2a2a2a" stroke-width="0.8"/>
<text x="43.1" y="252.72" font-size="6" fill="#444" text-anchor="end" stroke="#444" stroke-width="0.12">6</text>
<line x1="45.7" y1="234.8" x2="48.3" y2="234.8" stroke="#2a2a2a" stroke-width="0.8"/>
<text x="43.1" y="236.65" font-size="6" fill="#444" text-anchor="end" stroke="#444" stroke-width="0.12">8</text>
<g transform="translate(29.1,291.9) rotate(-90)" fill="#333" stroke="#333" stroke-width="0.4">
<text x="0" y="0" font-size="7.8" textLength="37.68" lengthAdjust="spacingAndGlyphs">Fold change (2</text>
<text x="40.7" y="-3.2" font-size="4.6" textLength="9.91" lengthAdjust="spacingAndGlyphs">-ΔΔCt</text>
<text x="50.72" y="0" font-size="7.8" textLength="2.28" lengthAdjust="spacingAndGlyphs">)</text>
</g>
<line x1="58.5" y1="288.65" x2="58.5" y2="292.27" stroke="#50525e" stroke-width="0.8"/>
<line x1="56.2" y1="288.65" x2="60.8" y2="288.65" stroke="#50525e" stroke-width="0.8"/>
<line x1="56.2" y1="292.27" x2="60.8" y2="292.27" stroke="#50525e" stroke-width="0.8"/>
<line x1="53.3" y1="290.34" x2="63.7" y2="290.34" stroke="#1e1e1e" stroke-width="1"/>
<line x1="72.6" y1="256.34" x2="72.6" y2="270" stroke="#a81c38" stroke-width="0.8"/>
<line x1="70.3" y1="256.34" x2="74.9" y2="256.34" stroke="#a81c38" stroke-width="0.8"/>
<line x1="70.3" y1="270" x2="74.9" y2="270" stroke="#a81c38" stroke-width="0.8"/>
<line x1="67.4" y1="263.01" x2="77.8" y2="263.01" stroke="#1e1e1e" stroke-width="1"/>
<line x1="87.3" y1="295.89" x2="87.3" y2="296.69" stroke="#3c5a80" stroke-width="0.8"/>
<line x1="85" y1="295.89" x2="89.6" y2="295.89" stroke="#3c5a80" stroke-width="0.8"/>
<line x1="85" y1="296.69" x2="89.6" y2="296.69" stroke="#3c5a80" stroke-width="0.8"/>
<line x1="82.1" y1="296.29" x2="92.5" y2="296.29" stroke="#1e1e1e" stroke-width="1"/>
<polygon points="56.35,286.99 60.65,286.99 58.5,283.24" fill="#1f2133"/>
<polygon points="53.35,291.81 57.65,291.81 55.5,288.07" fill="#1f2133"/>
<polygon points="57.85,293.33 62.15,293.33 60,289.59" fill="#1f2133"/>
<polygon points="58.35,296.71 62.65,296.71 60.5,292.97" fill="#1f2133"/>
<rect x="71.55" y="242.66" width="3.9" height="3.9" fill="#b81030"/>
<rect x="68.05" y="247.4" width="3.9" height="3.9" fill="#b81030"/>
<rect x="73.05" y="250.93" width="3.9" height="3.9" fill="#b81030"/>
<rect x="70.65" y="260.98" width="3.9" height="3.9" fill="#b81030"/>
<rect x="68.05" y="279.15" width="3.9" height="3.9" fill="#b81030"/>
<rect x="73.55" y="283.89" width="3.9" height="3.9" fill="#b81030"/>
<circle cx="85.3" cy="295.89" r="2.05" fill="#163a66"/>
<circle cx="87.3" cy="295.08" r="2.05" fill="#163a66"/>
<circle cx="89.3" cy="296.29" r="2.05" fill="#163a66"/>
<circle cx="87.3" cy="296.69" r="2.05" fill="#163a66"/>
<circle cx="88.8" cy="297.09" r="2.05" fill="#163a66"/>
<circle cx="86.3" cy="296.69" r="2.05" fill="#163a66"/>
<polyline points="57.3,239.6 57.3,237 70.3,237 70.3,239.6" fill="none" stroke="#333" stroke-width="0.8"/>
<text x="63.8" y="237.07" font-size="5.4" fill="#333" text-anchor="middle" stroke="#333" stroke-width="0.18">**</text>
<polyline points="71.4,239.6 71.4,237 86.4,237 86.4,239.6" fill="none" stroke="#333" stroke-width="0.8"/>
<text x="78.9" y="237.07" font-size="5.4" fill="#333" text-anchor="middle" stroke="#333" stroke-width="0.18">***</text>
<line x1="132.5" y1="232.5" x2="132.5" y2="299.6" stroke="#2a2a2a" stroke-width="1"/>
<line x1="132" y1="299.1" x2="181.5" y2="299.1" stroke="#2a2a2a" stroke-width="1"/>
<line x1="156.8" y1="299.1" x2="156.8" y2="302.1" stroke="#2a2a2a" stroke-width="1"/>
<line x1="129.9" y1="299.1" x2="132.5" y2="299.1" stroke="#2a2a2a" stroke-width="0.8"/>
<text x="127.3" y="300.95" font-size="6" fill="#444" text-anchor="end" stroke="#444" stroke-width="0.12">0.0</text>
<line x1="129.9" y1="283.03" x2="132.5" y2="283.03" stroke="#2a2a2a" stroke-width="0.8"/>
<text x="127.3" y="284.88" font-size="6" fill="#444" text-anchor="end" stroke="#444" stroke-width="0.12">0.5</text>
<line x1="129.9" y1="266.95" x2="132.5" y2="266.95" stroke="#2a2a2a" stroke-width="0.8"/>
<text x="127.3" y="268.8" font-size="6" fill="#444" text-anchor="end" stroke="#444" stroke-width="0.12">1.0</text>
<line x1="129.9" y1="250.88" x2="132.5" y2="250.88" stroke="#2a2a2a" stroke-width="0.8"/>
<text x="127.3" y="252.72" font-size="6" fill="#444" text-anchor="end" stroke="#444" stroke-width="0.12">1.5</text>
<line x1="129.9" y1="234.8" x2="132.5" y2="234.8" stroke="#2a2a2a" stroke-width="0.8"/>
<text x="127.3" y="236.65" font-size="6" fill="#444" text-anchor="end" stroke="#444" stroke-width="0.12">2.0</text>
<g transform="translate(112.8,291.9) rotate(-90)" fill="#333" stroke="#333" stroke-width="0.4">
<text x="0" y="0" font-size="7.8" textLength="37.68" lengthAdjust="spacingAndGlyphs">Fold change (2</text>
<text x="40.7" y="-3.2" font-size="4.6" textLength="9.91" lengthAdjust="spacingAndGlyphs">-ΔΔCt</text>
<text x="50.72" y="0" font-size="7.8" textLength="2.28" lengthAdjust="spacingAndGlyphs">)</text>
</g>
<line x1="142.2" y1="256.5" x2="142.2" y2="272" stroke="#50525e" stroke-width="0.8"/>
<line x1="139.9" y1="256.5" x2="144.5" y2="256.5" stroke="#50525e" stroke-width="0.8"/>
<line x1="139.9" y1="272" x2="144.5" y2="272" stroke="#50525e" stroke-width="0.8"/>
<line x1="137" y1="264.38" x2="147.4" y2="264.38" stroke="#1e1e1e" stroke-width="1"/>
<line x1="156.7" y1="280.77" x2="156.7" y2="284.63" stroke="#a81c38" stroke-width="0.8"/>
<line x1="154.4" y1="280.77" x2="159" y2="280.77" stroke="#a81c38" stroke-width="0.8"/>
<line x1="154.4" y1="284.63" x2="159" y2="284.63" stroke="#a81c38" stroke-width="0.8"/>
<line x1="151.5" y1="283.03" x2="161.9" y2="283.03" stroke="#1e1e1e" stroke-width="1"/>
<line x1="170.9" y1="289.78" x2="170.9" y2="293.63" stroke="#3c5a80" stroke-width="0.8"/>
<line x1="168.6" y1="289.78" x2="173.2" y2="289.78" stroke="#3c5a80" stroke-width="0.8"/>
<line x1="168.6" y1="293.63" x2="173.2" y2="293.63" stroke="#3c5a80" stroke-width="0.8"/>
<line x1="165.7" y1="292.09" x2="176.1" y2="292.09" stroke="#1e1e1e" stroke-width="1"/>
<polygon points="140.05,241.49 144.35,241.49 142.2,237.75" fill="#1f2133"/>
<polygon points="140.05,271.87 144.35,271.87 142.2,268.13" fill="#1f2133"/>
<polygon points="137.55,274.61 141.85,274.61 139.7,270.87" fill="#1f2133"/>
<polygon points="142.55,278.98 146.85,278.98 144.7,275.24" fill="#1f2133"/>
<rect x="156.75" y="275.61" width="3.9" height="3.9" fill="#b81030"/>
<rect x="153.25" y="277.86" width="3.9" height="3.9" fill="#b81030"/>
<rect x="156.25" y="281.08" width="3.9" height="3.9" fill="#b81030"/>
<rect x="151.75" y="281.08" width="3.9" height="3.9" fill="#b81030"/>
<rect x="152.75" y="284.93" width="3.9" height="3.9" fill="#b81030"/>
<rect x="157.25" y="285.58" width="3.9" height="3.9" fill="#b81030"/>
<circle cx="171.2" cy="287.53" r="2.05" fill="#163a66"/>
<circle cx="167.7" cy="290.9" r="2.05" fill="#163a66"/>
<circle cx="172.7" cy="292.35" r="2.05" fill="#163a66"/>
<circle cx="173.2" cy="295.4" r="2.05" fill="#163a66"/>
<polyline points="141.2,235.6 141.2,233 153.9,233 153.9,235.6" fill="none" stroke="#333" stroke-width="0.8"/>
<text x="147.55" y="232.87" font-size="5.4" fill="#333" text-anchor="middle" stroke="#333" stroke-width="0.18">*</text>
<polyline points="141.2,229.6 141.2,227 170.7,227 170.7,229.6" fill="none" stroke="#333" stroke-width="0.8"/>
<text x="155.95" y="226.87" font-size="5.4" fill="#333" text-anchor="middle" stroke="#333" stroke-width="0.18">***</text>
<line x1="214.1" y1="232.5" x2="214.1" y2="299.6" stroke="#2a2a2a" stroke-width="1"/>
<line x1="213.6" y1="299.1" x2="263.1" y2="299.1" stroke="#2a2a2a" stroke-width="1"/>
<line x1="238.4" y1="299.1" x2="238.4" y2="302.1" stroke="#2a2a2a" stroke-width="1"/>
<line x1="211.5" y1="299.1" x2="214.1" y2="299.1" stroke="#2a2a2a" stroke-width="0.8"/>
<text x="208.9" y="300.95" font-size="6" fill="#444" text-anchor="end" stroke="#444" stroke-width="0.12">0</text>
<line x1="211.5" y1="283.03" x2="214.1" y2="283.03" stroke="#2a2a2a" stroke-width="0.8"/>
<text x="208.9" y="284.88" font-size="6" fill="#444" text-anchor="end" stroke="#444" stroke-width="0.12">10</text>
<line x1="211.5" y1="266.95" x2="214.1" y2="266.95" stroke="#2a2a2a" stroke-width="0.8"/>
<text x="208.9" y="268.8" font-size="6" fill="#444" text-anchor="end" stroke="#444" stroke-width="0.12">20</text>
<line x1="211.5" y1="250.88" x2="214.1" y2="250.88" stroke="#2a2a2a" stroke-width="0.8"/>
<text x="208.9" y="252.72" font-size="6" fill="#444" text-anchor="end" stroke="#444" stroke-width="0.12">30</text>
<line x1="211.5" y1="234.8" x2="214.1" y2="234.8" stroke="#2a2a2a" stroke-width="0.8"/>
<text x="208.9" y="236.65" font-size="6" fill="#444" text-anchor="end" stroke="#444" stroke-width="0.12">40</text>
<g transform="translate(196.5,291.9) rotate(-90)" fill="#333" stroke="#333" stroke-width="0.4">
<text x="0" y="0" font-size="7.8" textLength="37.68" lengthAdjust="spacingAndGlyphs">Fold change (2</text>
<text x="40.7" y="-3.2" font-size="4.6" textLength="9.91" lengthAdjust="spacingAndGlyphs">-ΔΔCt</text>
<text x="50.72" y="0" font-size="7.8" textLength="2.28" lengthAdjust="spacingAndGlyphs">)</text>
</g>
<line x1="224.5" y1="296.37" x2="224.5" y2="297.65" stroke="#50525e" stroke-width="0.8"/>
<line x1="222.2" y1="296.37" x2="226.8" y2="296.37" stroke="#50525e" stroke-width="0.8"/>
<line x1="222.2" y1="297.65" x2="226.8" y2="297.65" stroke="#50525e" stroke-width="0.8"/>
<line x1="219.3" y1="297.01" x2="229.7" y2="297.01" stroke="#1e1e1e" stroke-width="1"/>
<line x1="239.2" y1="269.04" x2="239.2" y2="284.63" stroke="#a81c38" stroke-width="0.8"/>
<line x1="236.9" y1="269.04" x2="241.5" y2="269.04" stroke="#a81c38" stroke-width="0.8"/>
<line x1="236.9" y1="284.63" x2="241.5" y2="284.63" stroke="#a81c38" stroke-width="0.8"/>
<line x1="234" y1="277.08" x2="244.4" y2="277.08" stroke="#1e1e1e" stroke-width="1"/>
<line x1="254.2" y1="290.42" x2="254.2" y2="293.31" stroke="#3c5a80" stroke-width="0.8"/>
<line x1="251.9" y1="290.42" x2="256.5" y2="290.42" stroke="#3c5a80" stroke-width="0.8"/>
<line x1="251.9" y1="293.31" x2="256.5" y2="293.31" stroke="#3c5a80" stroke-width="0.8"/>
<line x1="249" y1="292.03" x2="259.4" y2="292.03" stroke="#1e1e1e" stroke-width="1"/>
<polygon points="219.85,298.56 224.15,298.56 222,294.82" fill="#1f2133"/>
<polygon points="222.35,299.36 226.65,299.36 224.5,295.62" fill="#1f2133"/>
<polygon points="224.85,300.01 229.15,300.01 227,296.27" fill="#1f2133"/>
<polygon points="222.35,297.76 226.65,297.76 224.5,294.01" fill="#1f2133"/>
<rect x="234.55" y="251.82" width="3.9" height="3.9" fill="#b81030"/>
<rect x="240.05" y="249.73" width="3.9" height="3.9" fill="#b81030"/>
<rect x="234.55" y="280.43" width="3.9" height="3.9" fill="#b81030"/>
<rect x="240.05" y="284.05" width="3.9" height="3.9" fill="#b81030"/>
<rect x="234.55" y="292.17" width="3.9" height="3.9" fill="#b81030"/>
<rect x="240.05" y="292.17" width="3.9" height="3.9" fill="#b81030"/>
<circle cx="253.5" cy="287.69" r="2.05" fill="#163a66"/>
<circle cx="250.7" cy="291.38" r="2.05" fill="#163a66"/>
<circle cx="255" cy="292.35" r="2.05" fill="#163a66"/>
<circle cx="253.2" cy="292.99" r="2.05" fill="#163a66"/>
<circle cx="256" cy="295.4" r="2.05" fill="#163a66"/>
<polyline points="239.6,239 239.6,236.4 254.1,236.4 254.1,239" fill="none" stroke="#333" stroke-width="0.8"/>
<text x="246.85" y="236.47" font-size="5.4" fill="#333" text-anchor="middle" stroke="#333" stroke-width="0.18">*</text>
<line x1="297" y1="232.5" x2="297" y2="299.6" stroke="#2a2a2a" stroke-width="1"/>
<line x1="296.5" y1="299.1" x2="346" y2="299.1" stroke="#2a2a2a" stroke-width="1"/>
<line x1="321.3" y1="299.1" x2="321.3" y2="302.1" stroke="#2a2a2a" stroke-width="1"/>
<line x1="294.4" y1="299.1" x2="297" y2="299.1" stroke="#2a2a2a" stroke-width="0.8"/>
<text x="291.8" y="300.95" font-size="6" fill="#444" text-anchor="end" stroke="#444" stroke-width="0.12">0</text>
<line x1="294.4" y1="286.24" x2="297" y2="286.24" stroke="#2a2a2a" stroke-width="0.8"/>
<text x="291.8" y="288.09" font-size="6" fill="#444" text-anchor="end" stroke="#444" stroke-width="0.12">1</text>
<line x1="294.4" y1="273.38" x2="297" y2="273.38" stroke="#2a2a2a" stroke-width="0.8"/>
<text x="291.8" y="275.23" font-size="6" fill="#444" text-anchor="end" stroke="#444" stroke-width="0.12">2</text>
<line x1="294.4" y1="260.52" x2="297" y2="260.52" stroke="#2a2a2a" stroke-width="0.8"/>
<text x="291.8" y="262.37" font-size="6" fill="#444" text-anchor="end" stroke="#444" stroke-width="0.12">3</text>
<line x1="294.4" y1="247.66" x2="297" y2="247.66" stroke="#2a2a2a" stroke-width="0.8"/>
<text x="291.8" y="249.51" font-size="6" fill="#444" text-anchor="end" stroke="#444" stroke-width="0.12">4</text>
<line x1="294.4" y1="234.8" x2="297" y2="234.8" stroke="#2a2a2a" stroke-width="0.8"/>
<text x="291.8" y="236.65" font-size="6" fill="#444" text-anchor="end" stroke="#444" stroke-width="0.12">5</text>
<g transform="translate(279.4,291.9) rotate(-90)" fill="#333" stroke="#333" stroke-width="0.4">
<text x="0" y="0" font-size="7.8" textLength="37.68" lengthAdjust="spacingAndGlyphs">Fold change (2</text>
<text x="40.7" y="-3.2" font-size="4.6" textLength="9.91" lengthAdjust="spacingAndGlyphs">-ΔΔCt</text>
<text x="50.72" y="0" font-size="7.8" textLength="2.28" lengthAdjust="spacingAndGlyphs">)</text>
</g>
<line x1="307.6" y1="277.75" x2="307.6" y2="289.07" stroke="#50525e" stroke-width="0.8"/>
<line x1="305.3" y1="277.75" x2="309.9" y2="277.75" stroke="#50525e" stroke-width="0.8"/>
<line x1="305.3" y1="289.07" x2="309.9" y2="289.07" stroke="#50525e" stroke-width="0.8"/>
<line x1="302.4" y1="283.54" x2="312.8" y2="283.54" stroke="#1e1e1e" stroke-width="1"/>
<line x1="321.7" y1="261.81" x2="321.7" y2="271.07" stroke="#a81c38" stroke-width="0.8"/>
<line x1="319.4" y1="261.81" x2="324" y2="261.81" stroke="#a81c38" stroke-width="0.8"/>
<line x1="319.4" y1="271.07" x2="324" y2="271.07" stroke="#a81c38" stroke-width="0.8"/>
<line x1="316.5" y1="265.79" x2="326.9" y2="265.79" stroke="#1e1e1e" stroke-width="1"/>
<line x1="336.2" y1="274.54" x2="336.2" y2="292.03" stroke="#3c5a80" stroke-width="0.8"/>
<line x1="333.9" y1="274.54" x2="338.5" y2="274.54" stroke="#3c5a80" stroke-width="0.8"/>
<line x1="333.9" y1="292.03" x2="338.5" y2="292.03" stroke="#3c5a80" stroke-width="0.8"/>
<line x1="331" y1="283.28" x2="341.4" y2="283.28" stroke="#1e1e1e" stroke-width="1"/>
<polygon points="304.95,270.11 309.25,270.11 307.1,266.37" fill="#1f2133"/>
<polygon points="302.45,293.25 306.75,293.25 304.6,289.51" fill="#1f2133"/>
<polygon points="307.45,295.18 311.75,295.18 309.6,291.44" fill="#1f2133"/>
<rect x="319.75" y="249.7" width="3.9" height="3.9" fill="#b81030"/>
<rect x="317.05" y="256.64" width="3.9" height="3.9" fill="#b81030"/>
<rect x="321.05" y="259.21" width="3.9" height="3.9" fill="#b81030"/>
<rect x="323.05" y="261.4" width="3.9" height="3.9" fill="#b81030"/>
<rect x="319.05" y="276.06" width="3.9" height="3.9" fill="#b81030"/>
<rect x="319.05" y="281.85" width="3.9" height="3.9" fill="#b81030"/>
<circle cx="336.2" cy="239.04" r="2.05" fill="#163a66"/>
<circle cx="333" cy="289.07" r="2.05" fill="#163a66"/>
<circle cx="335.2" cy="291.13" r="2.05" fill="#163a66"/>
<circle cx="338" cy="294.08" r="2.05" fill="#163a66"/>
<line x1="381.5" y1="232.5" x2="381.5" y2="299.6" stroke="#2a2a2a" stroke-width="1"/>
<line x1="381" y1="299.1" x2="430.5" y2="299.1" stroke="#2a2a2a" stroke-width="1"/>
<line x1="405.8" y1="299.1" x2="405.8" y2="302.1" stroke="#2a2a2a" stroke-width="1"/>
<line x1="378.9" y1="299.1" x2="381.5" y2="299.1" stroke="#2a2a2a" stroke-width="0.8"/>
<text x="376.3" y="300.95" font-size="6" fill="#444" text-anchor="end" stroke="#444" stroke-width="0.12">0.0</text>
<line x1="378.9" y1="283.03" x2="381.5" y2="283.03" stroke="#2a2a2a" stroke-width="0.8"/>
<text x="376.3" y="284.88" font-size="6" fill="#444" text-anchor="end" stroke="#444" stroke-width="0.12">0.5</text>
<line x1="378.9" y1="266.95" x2="381.5" y2="266.95" stroke="#2a2a2a" stroke-width="0.8"/>
<text x="376.3" y="268.8" font-size="6" fill="#444" text-anchor="end" stroke="#444" stroke-width="0.12">1.0</text>
<line x1="378.9" y1="250.88" x2="381.5" y2="250.88" stroke="#2a2a2a" stroke-width="0.8"/>
<text x="376.3" y="252.72" font-size="6" fill="#444" text-anchor="end" stroke="#444" stroke-width="0.12">1.5</text>
<line x1="378.9" y1="234.8" x2="381.5" y2="234.8" stroke="#2a2a2a" stroke-width="0.8"/>
<text x="376.3" y="236.65" font-size="6" fill="#444" text-anchor="end" stroke="#444" stroke-width="0.12">2.0</text>
<g transform="translate(361.7,291.9) rotate(-90)" fill="#333" stroke="#333" stroke-width="0.4">
<text x="0" y="0" font-size="7.8" textLength="37.68" lengthAdjust="spacingAndGlyphs">Fold change (2</text>
<text x="40.7" y="-3.2" font-size="4.6" textLength="9.91" lengthAdjust="spacingAndGlyphs">-ΔΔCt</text>
<text x="50.72" y="0" font-size="7.8" textLength="2.28" lengthAdjust="spacingAndGlyphs">)</text>
</g>
<line x1="391.3" y1="257.31" x2="391.3" y2="271.45" stroke="#50525e" stroke-width="0.8"/>
<line x1="389" y1="257.31" x2="393.6" y2="257.31" stroke="#50525e" stroke-width="0.8"/>
<line x1="389" y1="271.45" x2="393.6" y2="271.45" stroke="#50525e" stroke-width="0.8"/>
<line x1="386.1" y1="264.7" x2="396.5" y2="264.7" stroke="#1e1e1e" stroke-width="1"/>
<line x1="405" y1="261.16" x2="405" y2="267.59" stroke="#a81c38" stroke-width="0.8"/>
<line x1="402.7" y1="261.16" x2="407.3" y2="261.16" stroke="#a81c38" stroke-width="0.8"/>
<line x1="402.7" y1="267.59" x2="407.3" y2="267.59" stroke="#a81c38" stroke-width="0.8"/>
<line x1="399.8" y1="264.38" x2="410.2" y2="264.38" stroke="#1e1e1e" stroke-width="1"/>
<line x1="419.7" y1="267.59" x2="419.7" y2="281.74" stroke="#3c5a80" stroke-width="0.8"/>
<line x1="417.4" y1="267.59" x2="422" y2="267.59" stroke="#3c5a80" stroke-width="0.8"/>
<line x1="417.4" y1="281.74" x2="422" y2="281.74" stroke="#3c5a80" stroke-width="0.8"/>
<line x1="414.5" y1="274.67" x2="424.9" y2="274.67" stroke="#1e1e1e" stroke-width="1"/>
<polygon points="388.15,245.35 392.45,245.35 390.3,241.61" fill="#1f2133"/>
<polygon points="386.35,273 390.65,273 388.5,269.26" fill="#1f2133"/>
<polygon points="389.15,273.32 393.45,273.32 391.3,269.58" fill="#1f2133"/>
<polygon points="391.35,279.11 395.65,279.11 393.5,275.37" fill="#1f2133"/>
<rect x="400.05" y="254.55" width="3.9" height="3.9" fill="#b81030"/>
<rect x="405.05" y="254.07" width="3.9" height="3.9" fill="#b81030"/>
<rect x="405.55" y="261.14" width="3.9" height="3.9" fill="#b81030"/>
<rect x="400.05" y="263.07" width="3.9" height="3.9" fill="#b81030"/>
<rect x="407.05" y="265.96" width="3.9" height="3.9" fill="#b81030"/>
<rect x="403.05" y="274.45" width="3.9" height="3.9" fill="#b81030"/>
<circle cx="419.7" cy="247.66" r="2.05" fill="#163a66"/>
<circle cx="419.7" cy="258.59" r="2.05" fill="#163a66"/>
<circle cx="419.7" cy="274.67" r="2.05" fill="#163a66"/>
<circle cx="419.7" cy="282.38" r="2.05" fill="#163a66"/>
<circle cx="419.7" cy="289.13" r="2.05" fill="#163a66"/>
<circle cx="419.7" cy="295.89" r="2.05" fill="#163a66"/>
<line x1="464.1" y1="232.5" x2="464.1" y2="299.6" stroke="#2a2a2a" stroke-width="1"/>
<line x1="463.6" y1="299.1" x2="513.1" y2="299.1" stroke="#2a2a2a" stroke-width="1"/>
<line x1="488.4" y1="299.1" x2="488.4" y2="302.1" stroke="#2a2a2a" stroke-width="1"/>
<line x1="461.5" y1="299.1" x2="464.1" y2="299.1" stroke="#2a2a2a" stroke-width="0.8"/>
<text x="458.9" y="300.95" font-size="6" fill="#444" text-anchor="end" stroke="#444" stroke-width="0.12">0.0</text>
<line x1="461.5" y1="286.24" x2="464.1" y2="286.24" stroke="#2a2a2a" stroke-width="0.8"/>
<text x="458.9" y="288.09" font-size="6" fill="#444" text-anchor="end" stroke="#444" stroke-width="0.12">0.5</text>
<line x1="461.5" y1="273.38" x2="464.1" y2="273.38" stroke="#2a2a2a" stroke-width="0.8"/>
<text x="458.9" y="275.23" font-size="6" fill="#444" text-anchor="end" stroke="#444" stroke-width="0.12">1.0</text>
<line x1="461.5" y1="260.52" x2="464.1" y2="260.52" stroke="#2a2a2a" stroke-width="0.8"/>
<text x="458.9" y="262.37" font-size="6" fill="#444" text-anchor="end" stroke="#444" stroke-width="0.12">1.5</text>
<line x1="461.5" y1="247.66" x2="464.1" y2="247.66" stroke="#2a2a2a" stroke-width="0.8"/>
<text x="458.9" y="249.51" font-size="6" fill="#444" text-anchor="end" stroke="#444" stroke-width="0.12">2.0</text>
<line x1="461.5" y1="234.8" x2="464.1" y2="234.8" stroke="#2a2a2a" stroke-width="0.8"/>
<text x="458.9" y="236.65" font-size="6" fill="#444" text-anchor="end" stroke="#444" stroke-width="0.12">2.5</text>
<g transform="translate(445.2,291.9) rotate(-90)" fill="#333" stroke="#333" stroke-width="0.4">
<text x="0" y="0" font-size="7.8" textLength="37.68" lengthAdjust="spacingAndGlyphs">Fold change (2</text>
<text x="40.7" y="-3.2" font-size="4.6" textLength="9.91" lengthAdjust="spacingAndGlyphs">-ΔΔCt</text>
<text x="50.72" y="0" font-size="7.8" textLength="2.28" lengthAdjust="spacingAndGlyphs">)</text>
</g>
<line x1="474.4" y1="264.38" x2="474.4" y2="276.98" stroke="#50525e" stroke-width="0.8"/>
<line x1="472.1" y1="264.38" x2="476.7" y2="264.38" stroke="#50525e" stroke-width="0.8"/>
<line x1="472.1" y1="276.98" x2="476.7" y2="276.98" stroke="#50525e" stroke-width="0.8"/>
<line x1="469.2" y1="271.32" x2="479.6" y2="271.32" stroke="#1e1e1e" stroke-width="1"/>
<line x1="489.6" y1="287.27" x2="489.6" y2="289.58" stroke="#a81c38" stroke-width="0.8"/>
<line x1="487.3" y1="287.27" x2="491.9" y2="287.27" stroke="#a81c38" stroke-width="0.8"/>
<line x1="487.3" y1="289.58" x2="491.9" y2="289.58" stroke="#a81c38" stroke-width="0.8"/>
<line x1="484.4" y1="288.4" x2="494.8" y2="288.4" stroke="#1e1e1e" stroke-width="1"/>
<line x1="504" y1="292.67" x2="504" y2="294.73" stroke="#3c5a80" stroke-width="0.8"/>
<line x1="501.7" y1="292.67" x2="506.3" y2="292.67" stroke="#3c5a80" stroke-width="0.8"/>
<line x1="501.7" y1="294.73" x2="506.3" y2="294.73" stroke="#3c5a80" stroke-width="0.8"/>
<line x1="498.8" y1="293.7" x2="509.2" y2="293.7" stroke="#1e1e1e" stroke-width="1"/>
<polygon points="472.25,252.36 476.55,252.36 474.4,248.62" fill="#1f2133"/>
<polygon points="472.25,275.51 476.55,275.51 474.4,271.77" fill="#1f2133"/>
<polygon points="468.85,280.91 473.15,280.91 471,277.17" fill="#1f2133"/>
<polygon points="474.85,283.74 479.15,283.74 477,280" fill="#1f2133"/>
<rect x="486.15" y="283.78" width="3.9" height="3.9" fill="#b81030"/>
<rect x="484.65" y="286.35" width="3.9" height="3.9" fill="#b81030"/>
<rect x="487.15" y="286.86" width="3.9" height="3.9" fill="#b81030"/>
<rect x="488.15" y="288.66" width="3.9" height="3.9" fill="#b81030"/>
<rect x="489.15" y="289.95" width="3.9" height="3.9" fill="#b81030"/>
<rect x="490.15" y="290.98" width="3.9" height="3.9" fill="#b81030"/>
<circle cx="504" cy="291.13" r="2.05" fill="#163a66"/>
<circle cx="501" cy="293.96" r="2.05" fill="#163a66"/>
<circle cx="503" cy="293.44" r="2.05" fill="#163a66"/>
<circle cx="506.5" cy="294.73" r="2.05" fill="#163a66"/>
<circle cx="505" cy="296.53" r="2.05" fill="#163a66"/>
<circle cx="505.5" cy="297.81" r="2.05" fill="#163a66"/>
<polyline points="473.5,243.7 473.5,241.1 486.5,241.1 486.5,243.7" fill="none" stroke="#333" stroke-width="0.8"/>
<text x="480" y="241.17" font-size="5.4" fill="#333" text-anchor="middle" stroke="#333" stroke-width="0.18">**</text>
<polyline points="473.5,235.4 473.5,232.8 506.5,232.8 506.5,235.4" fill="none" stroke="#333" stroke-width="0.8"/>
<text x="490" y="232.87" font-size="5.4" fill="#333" text-anchor="middle" stroke="#333" stroke-width="0.18">***</text>
<rect x="44.8" y="344.4" width="9.45" height="9.44" fill="#6054b2"/>
<rect x="53.25" y="344.4" width="9.45" height="9.44" fill="#705cb2"/>
<rect x="61.7" y="344.4" width="9.45" height="9.44" fill="#de78a0"/>
<rect x="70.15" y="344.4" width="9.45" height="9.44" fill="#6054b2"/>
<rect x="78.6" y="344.4" width="9.33" height="9.44" fill="#f07c7c"/>
<rect x="86.93" y="344.4" width="9.33" height="9.44" fill="#f07c7c"/>
<rect x="95.27" y="344.4" width="9.33" height="9.44" fill="#f07c7c"/>
<rect x="103.6" y="344.4" width="9.33" height="9.44" fill="#f07c7c"/>
<rect x="111.93" y="344.4" width="9.33" height="9.44" fill="#ea7890"/>
<rect x="120.27" y="344.4" width="9.33" height="9.44" fill="#a868b6"/>
<rect x="128.6" y="344.4" width="9.48" height="9.44" fill="#554ca8"/>
<rect x="137.08" y="344.4" width="9.48" height="9.44" fill="#554ca8"/>
<rect x="145.57" y="344.4" width="9.48" height="9.44" fill="#554ca8"/>
<rect x="154.05" y="344.4" width="9.48" height="9.44" fill="#554ca8"/>
<rect x="162.53" y="344.4" width="9.48" height="9.44" fill="#554ca8"/>
<rect x="171.02" y="344.4" width="8.48" height="9.44" fill="#554ca8"/>
<rect x="44.8" y="352.84" width="9.45" height="9.44" fill="#6054b2"/>
<rect x="53.25" y="352.84" width="9.45" height="9.44" fill="#705cb2"/>
<rect x="61.7" y="352.84" width="9.45" height="9.44" fill="#de78a0"/>
<rect x="70.15" y="352.84" width="9.45" height="9.44" fill="#6054b2"/>
<rect x="78.6" y="352.84" width="9.33" height="9.44" fill="#554ca8"/>
<rect x="86.93" y="352.84" width="9.33" height="9.44" fill="#554ca8"/>
<rect x="95.27" y="352.84" width="9.33" height="9.44" fill="#554ca8"/>
<rect x="103.6" y="352.84" width="9.33" height="9.44" fill="#554ca8"/>
<rect x="111.93" y="352.84" width="9.33" height="9.44" fill="#554ca8"/>
<rect x="120.27" y="352.84" width="9.33" height="9.44" fill="#705cb2"/>
<rect x="128.6" y="352.84" width="9.48" height="9.44" fill="#8864b6"/>
<rect x="137.08" y="352.84" width="9.48" height="9.44" fill="#8864b6"/>
<rect x="145.57" y="352.84" width="9.48" height="9.44" fill="#8864b6"/>
<rect x="154.05" y="352.84" width="9.48" height="9.44" fill="#554ca8"/>
<rect x="162.53" y="352.84" width="9.48" height="9.44" fill="#8864b6"/>
<rect x="171.02" y="352.84" width="8.48" height="9.44" fill="#8864b6"/>
<rect x="44.8" y="361.27" width="9.45" height="9.44" fill="#6054b2"/>
<rect x="53.25" y="361.27" width="9.45" height="9.44" fill="#f07c7c"/>
<rect x="61.7" y="361.27" width="9.45" height="9.44" fill="#f07c7c"/>
<rect x="70.15" y="361.27" width="9.45" height="9.44" fill="#6054b2"/>
<rect x="78.6" y="361.27" width="9.33" height="9.44" fill="#f07c7c"/>
<rect x="86.93" y="361.27" width="9.33" height="9.44" fill="#f07c7c"/>
<rect x="95.27" y="361.27" width="9.33" height="9.44" fill="#f07c7c"/>
<rect x="103.6" y="361.27" width="9.33" height="9.44" fill="#f07c7c"/>
<rect x="111.93" y="361.27" width="9.33" height="9.44" fill="#f07c7c"/>
<rect x="120.27" y="361.27" width="9.33" height="9.44" fill="#f07c7c"/>
<rect x="128.6" y="361.27" width="9.48" height="9.44" fill="#f07c7c"/>
<rect x="137.08" y="361.27" width="9.48" height="9.44" fill="#f07c7c"/>
<rect x="145.57" y="361.27" width="9.48" height="9.44" fill="#de78a0"/>
<rect x="154.05" y="361.27" width="9.48" height="9.44" fill="#554ca8"/>
<rect x="162.53" y="361.27" width="9.48" height="9.44" fill="#554ca8"/>
<rect x="171.02" y="361.27" width="8.48" height="9.44" fill="#554ca8"/>
<rect x="44.8" y="369.71" width="9.45" height="9.44" fill="#6054b2"/>
<rect x="53.25" y="369.71" width="9.45" height="9.44" fill="#f07c7c"/>
<rect x="61.7" y="369.71" width="9.45" height="9.44" fill="#8864b6"/>
<rect x="70.15" y="369.71" width="9.45" height="9.44" fill="#6054b2"/>
<rect x="78.6" y="369.71" width="9.33" height="9.44" fill="#f07c7c"/>
<rect x="86.93" y="369.71" width="9.33" height="9.44" fill="#f07c7c"/>
<rect x="95.27" y="369.71" width="9.33" height="9.44" fill="#a868b6"/>
<rect x="103.6" y="369.71" width="9.33" height="9.44" fill="#705cb2"/>
<rect x="111.93" y="369.71" width="9.33" height="9.44" fill="#f07c7c"/>
<rect x="120.27" y="369.71" width="9.33" height="9.44" fill="#f07c7c"/>
<rect x="128.6" y="369.71" width="9.48" height="9.44" fill="#f07c7c"/>
<rect x="137.08" y="369.71" width="9.48" height="9.44" fill="#554ca8"/>
<rect x="145.57" y="369.71" width="9.48" height="9.44" fill="#554ca8"/>
<rect x="154.05" y="369.71" width="9.48" height="9.44" fill="#705cb2"/>
<rect x="162.53" y="369.71" width="9.48" height="9.44" fill="#554ca8"/>
<rect x="171.02" y="369.71" width="8.48" height="9.44" fill="#554ca8"/>
<rect x="44.8" y="378.14" width="9.45" height="9.44" fill="#6054b2"/>
<rect x="53.25" y="378.14" width="9.45" height="9.44" fill="#705cb2"/>
<rect x="61.7" y="378.14" width="9.45" height="9.44" fill="#de78a0"/>
<rect x="70.15" y="378.14" width="9.45" height="9.44" fill="#6054b2"/>
<rect x="78.6" y="378.14" width="9.33" height="9.44" fill="#f07c7c"/>
<rect x="86.93" y="378.14" width="9.33" height="9.44" fill="#f07c7c"/>
<rect x="95.27" y="378.14" width="9.33" height="9.44" fill="#f07c7c"/>
<rect x="103.6" y="378.14" width="9.33" height="9.44" fill="#f07c7c"/>
<rect x="111.93" y="378.14" width="9.33" height="9.44" fill="#f07c7c"/>
<rect x="120.27" y="378.14" width="9.33" height="9.44" fill="#a868b6"/>
<rect x="128.6" y="378.14" width="9.48" height="9.44" fill="#554ca8"/>
<rect x="137.08" y="378.14" width="9.48" height="9.44" fill="#554ca8"/>
<rect x="145.57" y="378.14" width="9.48" height="9.44" fill="#554ca8"/>
<rect x="154.05" y="378.14" width="9.48" height="9.44" fill="#554ca8"/>
<rect x="162.53" y="378.14" width="9.48" height="9.44" fill="#554ca8"/>
<rect x="171.02" y="378.14" width="8.48" height="9.44" fill="#554ca8"/>
<rect x="44.8" y="386.58" width="9.45" height="9.44" fill="#6054b2"/>
<rect x="53.25" y="386.58" width="9.45" height="9.44" fill="#705cb2"/>
<rect x="61.7" y="386.58" width="9.45" height="9.44" fill="#de78a0"/>
<rect x="70.15" y="386.58" width="9.45" height="9.44" fill="#6054b2"/>
<rect x="78.6" y="386.58" width="9.33" height="9.44" fill="#705cb2"/>
<rect x="86.93" y="386.58" width="9.33" height="9.44" fill="#705cb2"/>
<rect x="95.27" y="386.58" width="9.33" height="9.44" fill="#8864b6"/>
<rect x="103.6" y="386.58" width="9.33" height="9.44" fill="#8864b6"/>
<rect x="111.93" y="386.58" width="9.33" height="9.44" fill="#8864b6"/>
<rect x="120.27" y="386.58" width="9.33" height="9.44" fill="#554ca8"/>
<rect x="128.6" y="386.58" width="9.48" height="9.44" fill="#8864b6"/>
<rect x="137.08" y="386.58" width="9.48" height="9.44" fill="#8864b6"/>
<rect x="145.57" y="386.58" width="9.48" height="9.44" fill="#8864b6"/>
<rect x="154.05" y="386.58" width="9.48" height="9.44" fill="#554ca8"/>
<rect x="162.53" y="386.58" width="9.48" height="9.44" fill="#554ca8"/>
<rect x="171.02" y="386.58" width="8.48" height="9.44" fill="#554ca8"/>
<rect x="44.8" y="395.01" width="9.45" height="9.44" fill="#6054b2"/>
<rect x="53.25" y="395.01" width="9.45" height="9.44" fill="#705cb2"/>
<rect x="61.7" y="395.01" width="9.45" height="9.44" fill="#de78a0"/>
<rect x="70.15" y="395.01" width="9.45" height="9.44" fill="#6054b2"/>
<rect x="78.6" y="395.01" width="9.33" height="9.44" fill="#ea7890"/>
<rect x="86.93" y="395.01" width="9.33" height="9.44" fill="#ea7890"/>
<rect x="95.27" y="395.01" width="9.33" height="9.44" fill="#f07c7c"/>
<rect x="103.6" y="395.01" width="9.33" height="9.44" fill="#f07c7c"/>
<rect x="111.93" y="395.01" width="9.33" height="9.44" fill="#f07c7c"/>
<rect x="120.27" y="395.01" width="9.33" height="9.44" fill="#a868b6"/>
<rect x="128.6" y="395.01" width="9.48" height="9.44" fill="#f07c7c"/>
<rect x="137.08" y="395.01" width="9.48" height="9.44" fill="#f07c7c"/>
<rect x="145.57" y="395.01" width="9.48" height="9.44" fill="#f07c7c"/>
<rect x="154.05" y="395.01" width="9.48" height="9.44" fill="#554ca8"/>
<rect x="162.53" y="395.01" width="9.48" height="9.44" fill="#ea7890"/>
<rect x="171.02" y="395.01" width="8.48" height="9.44" fill="#ea7890"/>
<rect x="44.8" y="403.45" width="9.45" height="9.44" fill="#6054b2"/>
<rect x="53.25" y="403.45" width="9.45" height="9.44" fill="#705cb2"/>
<rect x="61.7" y="403.45" width="9.45" height="9.44" fill="#de78a0"/>
<rect x="70.15" y="403.45" width="9.45" height="9.44" fill="#6054b2"/>
<rect x="78.6" y="403.45" width="9.33" height="9.44" fill="#f07c7c"/>
<rect x="86.93" y="403.45" width="9.33" height="9.44" fill="#f07c7c"/>
<rect x="95.27" y="403.45" width="9.33" height="9.44" fill="#f07c7c"/>
<rect x="103.6" y="403.45" width="9.33" height="9.44" fill="#f07c7c"/>
<rect x="111.93" y="403.45" width="9.33" height="9.44" fill="#f07c7c"/>
<rect x="120.27" y="403.45" width="9.33" height="9.44" fill="#f07c7c"/>
<rect x="128.6" y="403.45" width="9.48" height="9.44" fill="#f07c7c"/>
<rect x="137.08" y="403.45" width="9.48" height="9.44" fill="#f07c7c"/>
<rect x="145.57" y="403.45" width="9.48" height="9.44" fill="#f07c7c"/>
<rect x="154.05" y="403.45" width="9.48" height="9.44" fill="#554ca8"/>
<rect x="162.53" y="403.45" width="9.48" height="9.44" fill="#f07c7c"/>
<rect x="171.02" y="403.45" width="8.48" height="9.44" fill="#ea7890"/>
<rect x="44.8" y="411.89" width="9.45" height="9.44" fill="#6054b2"/>
<rect x="53.25" y="411.89" width="9.45" height="9.44" fill="#705cb2"/>
<rect x="61.7" y="411.89" width="9.45" height="9.44" fill="#de78a0"/>
<rect x="70.15" y="411.89" width="9.45" height="9.44" fill="#6054b2"/>
<rect x="78.6" y="411.89" width="9.33" height="9.44" fill="#8864b6"/>
<rect x="86.93" y="411.89" width="9.33" height="9.44" fill="#8864b6"/>
<rect x="95.27" y="411.89" width="9.33" height="9.44" fill="#a868b6"/>
<rect x="103.6" y="411.89" width="9.33" height="9.44" fill="#a868b6"/>
<rect x="111.93" y="411.89" width="9.33" height="9.44" fill="#f07c7c"/>
<rect x="120.27" y="411.89" width="9.33" height="9.44" fill="#a868b6"/>
<rect x="128.6" y="411.89" width="9.48" height="9.44" fill="#ea7890"/>
<rect x="137.08" y="411.89" width="9.48" height="9.44" fill="#ea7890"/>
<rect x="145.57" y="411.89" width="9.48" height="9.44" fill="#ea7890"/>
<rect x="154.05" y="411.89" width="9.48" height="9.44" fill="#705cb2"/>
<rect x="162.53" y="411.89" width="9.48" height="9.44" fill="#c470b0"/>
<rect x="171.02" y="411.89" width="8.48" height="9.44" fill="#c470b0"/>
<rect x="44.8" y="420.32" width="9.45" height="9.44" fill="#6054b2"/>
<rect x="53.25" y="420.32" width="9.45" height="9.44" fill="#de78a0"/>
<rect x="61.7" y="420.32" width="9.45" height="9.44" fill="#de78a0"/>
<rect x="70.15" y="420.32" width="9.45" height="9.44" fill="#554ca8"/>
<rect x="78.6" y="420.32" width="9.33" height="9.44" fill="#554ca8"/>
<rect x="86.93" y="420.32" width="9.33" height="9.44" fill="#554ca8"/>
<rect x="95.27" y="420.32" width="9.33" height="9.44" fill="#554ca8"/>
<rect x="103.6" y="420.32" width="9.33" height="9.44" fill="#554ca8"/>
<rect x="111.93" y="420.32" width="9.33" height="9.44" fill="#f07c7c"/>
<rect x="120.27" y="420.32" width="9.33" height="9.44" fill="#f07c7c"/>
<rect x="128.6" y="420.32" width="9.48" height="9.44" fill="#554ca8"/>
<rect x="137.08" y="420.32" width="9.48" height="9.44" fill="#554ca8"/>
<rect x="145.57" y="420.32" width="9.48" height="9.44" fill="#554ca8"/>
<rect x="154.05" y="420.32" width="9.48" height="9.44" fill="#554ca8"/>
<rect x="162.53" y="420.32" width="9.48" height="9.44" fill="#554ca8"/>
<rect x="171.02" y="420.32" width="8.48" height="9.44" fill="#554ca8"/>
<rect x="44.8" y="428.76" width="9.45" height="9.44" fill="#6054b2"/>
<rect x="53.25" y="428.76" width="9.45" height="9.44" fill="#705cb2"/>
<rect x="61.7" y="428.76" width="9.45" height="9.44" fill="#de78a0"/>
<rect x="70.15" y="428.76" width="9.45" height="9.44" fill="#6054b2"/>
<rect x="78.6" y="428.76" width="9.33" height="9.44" fill="#554ca8"/>
<rect x="86.93" y="428.76" width="9.33" height="9.44" fill="#554ca8"/>
<rect x="95.27" y="428.76" width="9.33" height="9.44" fill="#554ca8"/>
<rect x="103.6" y="428.76" width="9.33" height="9.44" fill="#554ca8"/>
<rect x="111.93" y="428.76" width="9.33" height="9.44" fill="#554ca8"/>
<rect x="120.27" y="428.76" width="9.33" height="9.44" fill="#554ca8"/>
<rect x="128.6" y="428.76" width="9.48" height="9.44" fill="#554ca8"/>
<rect x="137.08" y="428.76" width="9.48" height="9.44" fill="#554ca8"/>
<rect x="145.57" y="428.76" width="9.48" height="9.44" fill="#554ca8"/>
<rect x="154.05" y="428.76" width="9.48" height="9.44" fill="#554ca8"/>
<rect x="162.53" y="428.76" width="9.48" height="9.44" fill="#554ca8"/>
<rect x="171.02" y="428.76" width="8.48" height="9.44" fill="#554ca8"/>
<rect x="44.8" y="437.19" width="9.45" height="9.44" fill="#6054b2"/>
<rect x="53.25" y="437.19" width="9.45" height="9.44" fill="#705cb2"/>
<rect x="61.7" y="437.19" width="9.45" height="9.44" fill="#de78a0"/>
<rect x="70.15" y="437.19" width="9.45" height="9.44" fill="#6054b2"/>
<rect x="78.6" y="437.19" width="9.33" height="9.44" fill="#554ca8"/>
<rect x="86.93" y="437.19" width="9.33" height="9.44" fill="#554ca8"/>
<rect x="95.27" y="437.19" width="9.33" height="9.44" fill="#554ca8"/>
<rect x="103.6" y="437.19" width="9.33" height="9.44" fill="#554ca8"/>
<rect x="111.93" y="437.19" width="9.33" height="9.44" fill="#554ca8"/>
<rect x="120.27" y="437.19" width="9.33" height="9.44" fill="#554ca8"/>
<rect x="128.6" y="437.19" width="9.48" height="9.44" fill="#554ca8"/>
<rect x="137.08" y="437.19" width="9.48" height="9.44" fill="#554ca8"/>
<rect x="145.57" y="437.19" width="9.48" height="9.44" fill="#554ca8"/>
<rect x="154.05" y="437.19" width="9.48" height="9.44" fill="#554ca8"/>
<rect x="162.53" y="437.19" width="9.48" height="9.44" fill="#554ca8"/>
<rect x="171.02" y="437.19" width="8.48" height="9.44" fill="#554ca8"/>
<rect x="44.8" y="445.63" width="9.45" height="9.44" fill="#6054b2"/>
<rect x="53.25" y="445.63" width="9.45" height="9.44" fill="#705cb2"/>
<rect x="61.7" y="445.63" width="9.45" height="9.44" fill="#de78a0"/>
<rect x="70.15" y="445.63" width="9.45" height="9.44" fill="#6054b2"/>
<rect x="78.6" y="445.63" width="9.33" height="9.44" fill="#ea7890"/>
<rect x="86.93" y="445.63" width="9.33" height="9.44" fill="#ea7890"/>
<rect x="95.27" y="445.63" width="9.33" height="9.44" fill="#f07c7c"/>
<rect x="103.6" y="445.63" width="9.33" height="9.44" fill="#f07c7c"/>
<rect x="111.93" y="445.63" width="9.33" height="9.44" fill="#f07c7c"/>
<rect x="120.27" y="445.63" width="9.33" height="9.44" fill="#f07c7c"/>
<rect x="128.6" y="445.63" width="9.48" height="9.44" fill="#ea7890"/>
<rect x="137.08" y="445.63" width="9.48" height="9.44" fill="#ea7890"/>
<rect x="145.57" y="445.63" width="9.48" height="9.44" fill="#de78a0"/>
<rect x="154.05" y="445.63" width="9.48" height="9.44" fill="#554ca8"/>
<rect x="162.53" y="445.63" width="9.48" height="9.44" fill="#f07c7c"/>
<rect x="171.02" y="445.63" width="8.48" height="9.44" fill="#f07c7c"/>
<rect x="44.8" y="454.06" width="9.45" height="8.44" fill="#6054b2"/>
<rect x="53.25" y="454.06" width="9.45" height="8.44" fill="#705cb2"/>
<rect x="61.7" y="454.06" width="9.45" height="8.44" fill="#de78a0"/>
<rect x="70.15" y="454.06" width="9.45" height="8.44" fill="#6054b2"/>
<rect x="78.6" y="454.06" width="9.33" height="8.44" fill="#ea7890"/>
<rect x="86.93" y="454.06" width="9.33" height="8.44" fill="#ea7890"/>
<rect x="95.27" y="454.06" width="9.33" height="8.44" fill="#f07c7c"/>
<rect x="103.6" y="454.06" width="9.33" height="8.44" fill="#f07c7c"/>
<rect x="111.93" y="454.06" width="9.33" height="8.44" fill="#de78a0"/>
<rect x="120.27" y="454.06" width="9.33" height="8.44" fill="#705cb2"/>
<rect x="128.6" y="454.06" width="9.48" height="8.44" fill="#554ca8"/>
<rect x="137.08" y="454.06" width="9.48" height="8.44" fill="#554ca8"/>
<rect x="145.57" y="454.06" width="9.48" height="8.44" fill="#554ca8"/>
<rect x="154.05" y="454.06" width="9.48" height="8.44" fill="#554ca8"/>
<rect x="162.53" y="454.06" width="9.48" height="8.44" fill="#554ca8"/>
<rect x="171.02" y="454.06" width="8.48" height="8.44" fill="#554ca8"/>
<line x1="44.8" y1="338" x2="44.8" y2="462.5" stroke="#1e1b44" stroke-width="0.9"/>
<line x1="78.6" y1="338" x2="78.6" y2="462.5" stroke="#1e1b44" stroke-width="0.9"/>
<line x1="128.6" y1="338" x2="128.6" y2="462.5" stroke="#1e1b44" stroke-width="0.9"/>
<line x1="179.5" y1="338" x2="179.5" y2="462.5" stroke="#1e1b44" stroke-width="0.9"/>
<rect x="188.1" y="344.4" width="9.4" height="9.44" fill="#6054b2"/>
<rect x="196.5" y="344.4" width="9.4" height="9.44" fill="#705cb2"/>
<rect x="204.9" y="344.4" width="9.4" height="9.44" fill="#de78a0"/>
<rect x="213.3" y="344.4" width="9.4" height="9.44" fill="#6054b2"/>
<rect x="221.7" y="344.4" width="9.33" height="9.44" fill="#f07c7c"/>
<rect x="230.03" y="344.4" width="9.33" height="9.44" fill="#f07c7c"/>
<rect x="238.37" y="344.4" width="9.33" height="9.44" fill="#f07c7c"/>
<rect x="246.7" y="344.4" width="9.33" height="9.44" fill="#f07c7c"/>
<rect x="255.03" y="344.4" width="9.33" height="9.44" fill="#f07c7c"/>
<rect x="263.37" y="344.4" width="9.33" height="9.44" fill="#f07c7c"/>
<rect x="271.7" y="344.4" width="9.47" height="9.44" fill="#f07c7c"/>
<rect x="280.17" y="344.4" width="9.47" height="9.44" fill="#f07c7c"/>
<rect x="288.63" y="344.4" width="9.47" height="9.44" fill="#f07c7c"/>
<rect x="297.1" y="344.4" width="9.47" height="9.44" fill="#c470b0"/>
<rect x="305.57" y="344.4" width="9.47" height="9.44" fill="#c470b0"/>
<rect x="314.03" y="344.4" width="8.47" height="9.44" fill="#c470b0"/>
<rect x="188.1" y="352.84" width="9.4" height="9.44" fill="#6054b2"/>
<rect x="196.5" y="352.84" width="9.4" height="9.44" fill="#705cb2"/>
<rect x="204.9" y="352.84" width="9.4" height="9.44" fill="#de78a0"/>
<rect x="213.3" y="352.84" width="9.4" height="9.44" fill="#6054b2"/>
<rect x="221.7" y="352.84" width="9.33" height="9.44" fill="#554ca8"/>
<rect x="230.03" y="352.84" width="9.33" height="9.44" fill="#554ca8"/>
<rect x="238.37" y="352.84" width="9.33" height="9.44" fill="#554ca8"/>
<rect x="246.7" y="352.84" width="9.33" height="9.44" fill="#554ca8"/>
<rect x="255.03" y="352.84" width="9.33" height="9.44" fill="#554ca8"/>
<rect x="263.37" y="352.84" width="9.33" height="9.44" fill="#554ca8"/>
<rect x="271.7" y="352.84" width="9.47" height="9.44" fill="#554ca8"/>
<rect x="280.17" y="352.84" width="9.47" height="9.44" fill="#554ca8"/>
<rect x="288.63" y="352.84" width="9.47" height="9.44" fill="#554ca8"/>
<rect x="297.1" y="352.84" width="9.47" height="9.44" fill="#554ca8"/>
<rect x="305.57" y="352.84" width="9.47" height="9.44" fill="#554ca8"/>
<rect x="314.03" y="352.84" width="8.47" height="9.44" fill="#554ca8"/>
<rect x="188.1" y="361.27" width="9.4" height="9.44" fill="#6054b2"/>
<rect x="196.5" y="361.27" width="9.4" height="9.44" fill="#f07c7c"/>
<rect x="204.9" y="361.27" width="9.4" height="9.44" fill="#f07c7c"/>
<rect x="213.3" y="361.27" width="9.4" height="9.44" fill="#554ca8"/>
<rect x="221.7" y="361.27" width="9.33" height="9.44" fill="#f07c7c"/>
<rect x="230.03" y="361.27" width="9.33" height="9.44" fill="#f07c7c"/>
<rect x="238.37" y="361.27" width="9.33" height="9.44" fill="#f07c7c"/>
<rect x="246.7" y="361.27" width="9.33" height="9.44" fill="#f07c7c"/>
<rect x="255.03" y="361.27" width="9.33" height="9.44" fill="#f07c7c"/>
<rect x="263.37" y="361.27" width="9.33" height="9.44" fill="#f07c7c"/>
<rect x="271.7" y="361.27" width="9.47" height="9.44" fill="#f07c7c"/>
<rect x="280.17" y="361.27" width="9.47" height="9.44" fill="#f07c7c"/>
<rect x="288.63" y="361.27" width="9.47" height="9.44" fill="#de78a0"/>
<rect x="297.1" y="361.27" width="9.47" height="9.44" fill="#554ca8"/>
<rect x="305.57" y="361.27" width="9.47" height="9.44" fill="#554ca8"/>
<rect x="314.03" y="361.27" width="8.47" height="9.44" fill="#554ca8"/>
<rect x="188.1" y="369.71" width="9.4" height="9.44" fill="#6054b2"/>
<rect x="196.5" y="369.71" width="9.4" height="9.44" fill="#f07c7c"/>
<rect x="204.9" y="369.71" width="9.4" height="9.44" fill="#f07c7c"/>
<rect x="213.3" y="369.71" width="9.4" height="9.44" fill="#554ca8"/>
<rect x="221.7" y="369.71" width="9.33" height="9.44" fill="#554ca8"/>
<rect x="230.03" y="369.71" width="9.33" height="9.44" fill="#554ca8"/>
<rect x="238.37" y="369.71" width="9.33" height="9.44" fill="#554ca8"/>
<rect x="246.7" y="369.71" width="9.33" height="9.44" fill="#554ca8"/>
<rect x="255.03" y="369.71" width="9.33" height="9.44" fill="#f07c7c"/>
<rect x="263.37" y="369.71" width="9.33" height="9.44" fill="#f07c7c"/>
<rect x="271.7" y="369.71" width="9.47" height="9.44" fill="#554ca8"/>
<rect x="280.17" y="369.71" width="9.47" height="9.44" fill="#554ca8"/>
<rect x="288.63" y="369.71" width="9.47" height="9.44" fill="#554ca8"/>
<rect x="297.1" y="369.71" width="9.47" height="9.44" fill="#554ca8"/>
<rect x="305.57" y="369.71" width="9.47" height="9.44" fill="#554ca8"/>
<rect x="314.03" y="369.71" width="8.47" height="9.44" fill="#554ca8"/>
<rect x="188.1" y="378.14" width="9.4" height="9.44" fill="#6054b2"/>
<rect x="196.5" y="378.14" width="9.4" height="9.44" fill="#705cb2"/>
<rect x="204.9" y="378.14" width="9.4" height="9.44" fill="#de78a0"/>
<rect x="213.3" y="378.14" width="9.4" height="9.44" fill="#6054b2"/>
<rect x="221.7" y="378.14" width="9.33" height="9.44" fill="#f07c7c"/>
<rect x="230.03" y="378.14" width="9.33" height="9.44" fill="#f07c7c"/>
<rect x="238.37" y="378.14" width="9.33" height="9.44" fill="#f07c7c"/>
<rect x="246.7" y="378.14" width="9.33" height="9.44" fill="#f07c7c"/>
<rect x="255.03" y="378.14" width="9.33" height="9.44" fill="#f07c7c"/>
<rect x="263.37" y="378.14" width="9.33" height="9.44" fill="#f07c7c"/>
<rect x="271.7" y="378.14" width="9.47" height="9.44" fill="#f07c7c"/>
<rect x="280.17" y="378.14" width="9.47" height="9.44" fill="#f07c7c"/>
<rect x="288.63" y="378.14" width="9.47" height="9.44" fill="#f07c7c"/>
<rect x="297.1" y="378.14" width="9.47" height="9.44" fill="#de78a0"/>
<rect x="305.57" y="378.14" width="9.47" height="9.44" fill="#c470b0"/>
<rect x="314.03" y="378.14" width="8.47" height="9.44" fill="#c470b0"/>
<rect x="188.1" y="386.58" width="9.4" height="9.44" fill="#6054b2"/>
<rect x="196.5" y="386.58" width="9.4" height="9.44" fill="#705cb2"/>
<rect x="204.9" y="386.58" width="9.4" height="9.44" fill="#de78a0"/>
<rect x="213.3" y="386.58" width="9.4" height="9.44" fill="#6054b2"/>
<rect x="221.7" y="386.58" width="9.33" height="9.44" fill="#f07c7c"/>
<rect x="230.03" y="386.58" width="9.33" height="9.44" fill="#f07c7c"/>
<rect x="238.37" y="386.58" width="9.33" height="9.44" fill="#f07c7c"/>
<rect x="246.7" y="386.58" width="9.33" height="9.44" fill="#f07c7c"/>
<rect x="255.03" y="386.58" width="9.33" height="9.44" fill="#ea7890"/>
<rect x="263.37" y="386.58" width="9.33" height="9.44" fill="#8864b6"/>
<rect x="271.7" y="386.58" width="9.47" height="9.44" fill="#554ca8"/>
<rect x="280.17" y="386.58" width="9.47" height="9.44" fill="#554ca8"/>
<rect x="288.63" y="386.58" width="9.47" height="9.44" fill="#554ca8"/>
<rect x="297.1" y="386.58" width="9.47" height="9.44" fill="#554ca8"/>
<rect x="305.57" y="386.58" width="9.47" height="9.44" fill="#554ca8"/>
<rect x="314.03" y="386.58" width="8.47" height="9.44" fill="#554ca8"/>
<rect x="188.1" y="395.01" width="9.4" height="9.44" fill="#6054b2"/>
<rect x="196.5" y="395.01" width="9.4" height="9.44" fill="#705cb2"/>
<rect x="204.9" y="395.01" width="9.4" height="9.44" fill="#de78a0"/>
<rect x="213.3" y="395.01" width="9.4" height="9.44" fill="#6054b2"/>
<rect x="221.7" y="395.01" width="9.33" height="9.44" fill="#8864b6"/>
<rect x="230.03" y="395.01" width="9.33" height="9.44" fill="#8864b6"/>
<rect x="238.37" y="395.01" width="9.33" height="9.44" fill="#8864b6"/>
<rect x="246.7" y="395.01" width="9.33" height="9.44" fill="#8864b6"/>
<rect x="255.03" y="395.01" width="9.33" height="9.44" fill="#8864b6"/>
<rect x="263.37" y="395.01" width="9.33" height="9.44" fill="#8864b6"/>
<rect x="271.7" y="395.01" width="9.47" height="9.44" fill="#c470b0"/>
<rect x="280.17" y="395.01" width="9.47" height="9.44" fill="#c470b0"/>
<rect x="288.63" y="395.01" width="9.47" height="9.44" fill="#705cb2"/>
<rect x="297.1" y="395.01" width="9.47" height="9.44" fill="#705cb2"/>
<rect x="305.57" y="395.01" width="9.47" height="9.44" fill="#705cb2"/>
<rect x="314.03" y="395.01" width="8.47" height="9.44" fill="#705cb2"/>
<rect x="188.1" y="403.45" width="9.4" height="9.44" fill="#6054b2"/>
<rect x="196.5" y="403.45" width="9.4" height="9.44" fill="#705cb2"/>
<rect x="204.9" y="403.45" width="9.4" height="9.44" fill="#de78a0"/>
<rect x="213.3" y="403.45" width="9.4" height="9.44" fill="#6054b2"/>
<rect x="221.7" y="403.45" width="9.33" height="9.44" fill="#554ca8"/>
<rect x="230.03" y="403.45" width="9.33" height="9.44" fill="#554ca8"/>
<rect x="238.37" y="403.45" width="9.33" height="9.44" fill="#554ca8"/>
<rect x="246.7" y="403.45" width="9.33" height="9.44" fill="#554ca8"/>
<rect x="255.03" y="403.45" width="9.33" height="9.44" fill="#554ca8"/>
<rect x="263.37" y="403.45" width="9.33" height="9.44" fill="#554ca8"/>
<rect x="271.7" y="403.45" width="9.47" height="9.44" fill="#554ca8"/>
<rect x="280.17" y="403.45" width="9.47" height="9.44" fill="#554ca8"/>
<rect x="288.63" y="403.45" width="9.47" height="9.44" fill="#554ca8"/>
<rect x="297.1" y="403.45" width="9.47" height="9.44" fill="#554ca8"/>
<rect x="305.57" y="403.45" width="9.47" height="9.44" fill="#554ca8"/>
<rect x="314.03" y="403.45" width="8.47" height="9.44" fill="#554ca8"/>
<rect x="188.1" y="411.89" width="9.4" height="9.44" fill="#6054b2"/>
<rect x="196.5" y="411.89" width="9.4" height="9.44" fill="#705cb2"/>
<rect x="204.9" y="411.89" width="9.4" height="9.44" fill="#de78a0"/>
<rect x="213.3" y="411.89" width="9.4" height="9.44" fill="#6054b2"/>
<rect x="221.7" y="411.89" width="9.33" height="9.44" fill="#8864b6"/>
<rect x="230.03" y="411.89" width="9.33" height="9.44" fill="#8864b6"/>
<rect x="238.37" y="411.89" width="9.33" height="9.44" fill="#a868b6"/>
<rect x="246.7" y="411.89" width="9.33" height="9.44" fill="#a868b6"/>
<rect x="255.03" y="411.89" width="9.33" height="9.44" fill="#f07c7c"/>
<rect x="263.37" y="411.89" width="9.33" height="9.44" fill="#c470b0"/>
<rect x="271.7" y="411.89" width="9.47" height="9.44" fill="#f07c7c"/>
<rect x="280.17" y="411.89" width="9.47" height="9.44" fill="#f07c7c"/>
<rect x="288.63" y="411.89" width="9.47" height="9.44" fill="#f07c7c"/>
<rect x="297.1" y="411.89" width="9.47" height="9.44" fill="#705cb2"/>
<rect x="305.57" y="411.89" width="9.47" height="9.44" fill="#c470b0"/>
<rect x="314.03" y="411.89" width="8.47" height="9.44" fill="#c470b0"/>
<rect x="188.1" y="420.32" width="9.4" height="9.44" fill="#6054b2"/>
<rect x="196.5" y="420.32" width="9.4" height="9.44" fill="#de78a0"/>
<rect x="204.9" y="420.32" width="9.4" height="9.44" fill="#de78a0"/>
<rect x="213.3" y="420.32" width="9.4" height="9.44" fill="#554ca8"/>
<rect x="221.7" y="420.32" width="9.33" height="9.44" fill="#6054b2"/>
<rect x="230.03" y="420.32" width="9.33" height="9.44" fill="#6054b2"/>
<rect x="238.37" y="420.32" width="9.33" height="9.44" fill="#6054b2"/>
<rect x="246.7" y="420.32" width="9.33" height="9.44" fill="#6054b2"/>
<rect x="255.03" y="420.32" width="9.33" height="9.44" fill="#f07c7c"/>
<rect x="263.37" y="420.32" width="9.33" height="9.44" fill="#ea7890"/>
<rect x="271.7" y="420.32" width="9.47" height="9.44" fill="#705cb2"/>
<rect x="280.17" y="420.32" width="9.47" height="9.44" fill="#705cb2"/>
<rect x="288.63" y="420.32" width="9.47" height="9.44" fill="#705cb2"/>
<rect x="297.1" y="420.32" width="9.47" height="9.44" fill="#554ca8"/>
<rect x="305.57" y="420.32" width="9.47" height="9.44" fill="#554ca8"/>
<rect x="314.03" y="420.32" width="8.47" height="9.44" fill="#554ca8"/>
<rect x="188.1" y="428.76" width="9.4" height="9.44" fill="#6054b2"/>
<rect x="196.5" y="428.76" width="9.4" height="9.44" fill="#705cb2"/>
<rect x="204.9" y="428.76" width="9.4" height="9.44" fill="#de78a0"/>
<rect x="213.3" y="428.76" width="9.4" height="9.44" fill="#6054b2"/>
<rect x="221.7" y="428.76" width="9.33" height="9.44" fill="#554ca8"/>
<rect x="230.03" y="428.76" width="9.33" height="9.44" fill="#554ca8"/>
<rect x="238.37" y="428.76" width="9.33" height="9.44" fill="#554ca8"/>
<rect x="246.7" y="428.76" width="9.33" height="9.44" fill="#554ca8"/>
<rect x="255.03" y="428.76" width="9.33" height="9.44" fill="#554ca8"/>
<rect x="263.37" y="428.76" width="9.33" height="9.44" fill="#554ca8"/>
<rect x="271.7" y="428.76" width="9.47" height="9.44" fill="#705cb2"/>
<rect x="280.17" y="428.76" width="9.47" height="9.44" fill="#705cb2"/>
<rect x="288.63" y="428.76" width="9.47" height="9.44" fill="#705cb2"/>
<rect x="297.1" y="428.76" width="9.47" height="9.44" fill="#554ca8"/>
<rect x="305.57" y="428.76" width="9.47" height="9.44" fill="#705cb2"/>
<rect x="314.03" y="428.76" width="8.47" height="9.44" fill="#705cb2"/>
<rect x="188.1" y="437.19" width="9.4" height="9.44" fill="#6054b2"/>
<rect x="196.5" y="437.19" width="9.4" height="9.44" fill="#705cb2"/>
<rect x="204.9" y="437.19" width="9.4" height="9.44" fill="#de78a0"/>
<rect x="213.3" y="437.19" width="9.4" height="9.44" fill="#6054b2"/>
<rect x="221.7" y="437.19" width="9.33" height="9.44" fill="#f07c7c"/>
<rect x="230.03" y="437.19" width="9.33" height="9.44" fill="#f07c7c"/>
<rect x="238.37" y="437.19" width="9.33" height="9.44" fill="#f07c7c"/>
<rect x="246.7" y="437.19" width="9.33" height="9.44" fill="#f07c7c"/>
<rect x="255.03" y="437.19" width="9.33" height="9.44" fill="#f07c7c"/>
<rect x="263.37" y="437.19" width="9.33" height="9.44" fill="#f07c7c"/>
<rect x="271.7" y="437.19" width="9.47" height="9.44" fill="#f07c7c"/>
<rect x="280.17" y="437.19" width="9.47" height="9.44" fill="#f07c7c"/>
<rect x="288.63" y="437.19" width="9.47" height="9.44" fill="#f07c7c"/>
<rect x="297.1" y="437.19" width="9.47" height="9.44" fill="#705cb2"/>
<rect x="305.57" y="437.19" width="9.47" height="9.44" fill="#f07c7c"/>
<rect x="314.03" y="437.19" width="8.47" height="9.44" fill="#f07c7c"/>
<rect x="188.1" y="445.63" width="9.4" height="9.44" fill="#6054b2"/>
<rect x="196.5" y="445.63" width="9.4" height="9.44" fill="#705cb2"/>
<rect x="204.9" y="445.63" width="9.4" height="9.44" fill="#ea7890"/>
<rect x="213.3" y="445.63" width="9.4" height="9.44" fill="#6054b2"/>
<rect x="221.7" y="445.63" width="9.33" height="9.44" fill="#ea7890"/>
<rect x="230.03" y="445.63" width="9.33" height="9.44" fill="#c470b0"/>
<rect x="238.37" y="445.63" width="9.33" height="9.44" fill="#f07c7c"/>
<rect x="246.7" y="445.63" width="9.33" height="9.44" fill="#f07c7c"/>
<rect x="255.03" y="445.63" width="9.33" height="9.44" fill="#f07c7c"/>
<rect x="263.37" y="445.63" width="9.33" height="9.44" fill="#f07c7c"/>
<rect x="271.7" y="445.63" width="9.47" height="9.44" fill="#f07c7c"/>
<rect x="280.17" y="445.63" width="9.47" height="9.44" fill="#f07c7c"/>
<rect x="288.63" y="445.63" width="9.47" height="9.44" fill="#f07c7c"/>
<rect x="297.1" y="445.63" width="9.47" height="9.44" fill="#705cb2"/>
<rect x="305.57" y="445.63" width="9.47" height="9.44" fill="#f07c7c"/>
<rect x="314.03" y="445.63" width="8.47" height="9.44" fill="#f07c7c"/>
<rect x="188.1" y="454.06" width="9.4" height="8.44" fill="#6054b2"/>
<rect x="196.5" y="454.06" width="9.4" height="8.44" fill="#705cb2"/>
<rect x="204.9" y="454.06" width="9.4" height="8.44" fill="#ea7890"/>
<rect x="213.3" y="454.06" width="9.4" height="8.44" fill="#6054b2"/>
<rect x="221.7" y="454.06" width="9.33" height="8.44" fill="#f07c7c"/>
<rect x="230.03" y="454.06" width="9.33" height="8.44" fill="#f07c7c"/>
<rect x="238.37" y="454.06" width="9.33" height="8.44" fill="#f07c7c"/>
<rect x="246.7" y="454.06" width="9.33" height="8.44" fill="#f07c7c"/>
<rect x="255.03" y="454.06" width="9.33" height="8.44" fill="#a868b6"/>
<rect x="263.37" y="454.06" width="9.33" height="8.44" fill="#705cb2"/>
<rect x="271.7" y="454.06" width="9.47" height="8.44" fill="#554ca8"/>
<rect x="280.17" y="454.06" width="9.47" height="8.44" fill="#554ca8"/>
<rect x="288.63" y="454.06" width="9.47" height="8.44" fill="#554ca8"/>
<rect x="297.1" y="454.06" width="9.47" height="8.44" fill="#554ca8"/>
<rect x="305.57" y="454.06" width="9.47" height="8.44" fill="#554ca8"/>
<rect x="314.03" y="454.06" width="8.47" height="8.44" fill="#554ca8"/>
<line x1="188.1" y1="338" x2="188.1" y2="462.5" stroke="#1e1b44" stroke-width="0.9"/>
<line x1="221.7" y1="338" x2="221.7" y2="462.5" stroke="#1e1b44" stroke-width="0.9"/>
<line x1="271.7" y1="338" x2="271.7" y2="462.5" stroke="#1e1b44" stroke-width="0.9"/>
<line x1="322.5" y1="338" x2="322.5" y2="462.5" stroke="#1e1b44" stroke-width="0.9"/>
<rect x="330.6" y="344.4" width="9.48" height="9.44" fill="#6054b2"/>
<rect x="339.08" y="344.4" width="9.47" height="9.44" fill="#705cb2"/>
<rect x="347.55" y="344.4" width="9.47" height="9.44" fill="#de78a0"/>
<rect x="356.02" y="344.4" width="9.48" height="9.44" fill="#6054b2"/>
<rect x="364.5" y="344.4" width="9.32" height="9.44" fill="#705cb2"/>
<rect x="372.82" y="344.4" width="9.32" height="9.44" fill="#705cb2"/>
<rect x="381.13" y="344.4" width="9.32" height="9.44" fill="#705cb2"/>
<rect x="389.45" y="344.4" width="9.32" height="9.44" fill="#705cb2"/>
<rect x="397.77" y="344.4" width="9.32" height="9.44" fill="#705cb2"/>
<rect x="406.08" y="344.4" width="9.32" height="9.44" fill="#705cb2"/>
<rect x="414.4" y="344.4" width="9.45" height="9.44" fill="#554ca8"/>
<rect x="422.85" y="344.4" width="9.45" height="9.44" fill="#554ca8"/>
<rect x="431.3" y="344.4" width="9.45" height="9.44" fill="#554ca8"/>
<rect x="439.75" y="344.4" width="9.45" height="9.44" fill="#554ca8"/>
<rect x="448.2" y="344.4" width="9.45" height="9.44" fill="#554ca8"/>
<rect x="456.65" y="344.4" width="8.45" height="9.44" fill="#554ca8"/>
<rect x="330.6" y="352.84" width="9.48" height="9.44" fill="#6054b2"/>
<rect x="339.08" y="352.84" width="9.47" height="9.44" fill="#705cb2"/>
<rect x="347.55" y="352.84" width="9.47" height="9.44" fill="#de78a0"/>
<rect x="356.02" y="352.84" width="9.48" height="9.44" fill="#6054b2"/>
<rect x="364.5" y="352.84" width="9.32" height="9.44" fill="#f07c7c"/>
<rect x="372.82" y="352.84" width="9.32" height="9.44" fill="#f07c7c"/>
<rect x="381.13" y="352.84" width="9.32" height="9.44" fill="#f07c7c"/>
<rect x="389.45" y="352.84" width="9.32" height="9.44" fill="#f07c7c"/>
<rect x="397.77" y="352.84" width="9.32" height="9.44" fill="#f07c7c"/>
<rect x="406.08" y="352.84" width="9.32" height="9.44" fill="#f07c7c"/>
<rect x="414.4" y="352.84" width="9.45" height="9.44" fill="#6054b2"/>
<rect x="422.85" y="352.84" width="9.45" height="9.44" fill="#554ca8"/>
<rect x="431.3" y="352.84" width="9.45" height="9.44" fill="#6054b2"/>
<rect x="439.75" y="352.84" width="9.45" height="9.44" fill="#6054b2"/>
<rect x="448.2" y="352.84" width="9.45" height="9.44" fill="#6054b2"/>
<rect x="456.65" y="352.84" width="8.45" height="9.44" fill="#6054b2"/>
<rect x="330.6" y="361.27" width="9.48" height="9.44" fill="#6054b2"/>
<rect x="339.08" y="361.27" width="9.47" height="9.44" fill="#f07c7c"/>
<rect x="347.55" y="361.27" width="9.47" height="9.44" fill="#8864b6"/>
<rect x="356.02" y="361.27" width="9.48" height="9.44" fill="#554ca8"/>
<rect x="364.5" y="361.27" width="9.32" height="9.44" fill="#f07c7c"/>
<rect x="372.82" y="361.27" width="9.32" height="9.44" fill="#f07c7c"/>
<rect x="381.13" y="361.27" width="9.32" height="9.44" fill="#8864b6"/>
<rect x="389.45" y="361.27" width="9.32" height="9.44" fill="#705cb2"/>
<rect x="397.77" y="361.27" width="9.32" height="9.44" fill="#f07c7c"/>
<rect x="406.08" y="361.27" width="9.32" height="9.44" fill="#f07c7c"/>
<rect x="414.4" y="361.27" width="9.45" height="9.44" fill="#ea7890"/>
<rect x="422.85" y="361.27" width="9.45" height="9.44" fill="#6054b2"/>
<rect x="431.3" y="361.27" width="9.45" height="9.44" fill="#554ca8"/>
<rect x="439.75" y="361.27" width="9.45" height="9.44" fill="#c470b0"/>
<rect x="448.2" y="361.27" width="9.45" height="9.44" fill="#6054b2"/>
<rect x="456.65" y="361.27" width="8.45" height="9.44" fill="#6054b2"/>
<rect x="330.6" y="369.71" width="9.48" height="9.44" fill="#6054b2"/>
<rect x="339.08" y="369.71" width="9.47" height="9.44" fill="#705cb2"/>
<rect x="347.55" y="369.71" width="9.47" height="9.44" fill="#de78a0"/>
<rect x="356.02" y="369.71" width="9.48" height="9.44" fill="#6054b2"/>
<rect x="364.5" y="369.71" width="9.32" height="9.44" fill="#8864b6"/>
<rect x="372.82" y="369.71" width="9.32" height="9.44" fill="#8864b6"/>
<rect x="381.13" y="369.71" width="9.32" height="9.44" fill="#705cb2"/>
<rect x="389.45" y="369.71" width="9.32" height="9.44" fill="#705cb2"/>
<rect x="397.77" y="369.71" width="9.32" height="9.44" fill="#f07c7c"/>
<rect x="406.08" y="369.71" width="9.32" height="9.44" fill="#f07c7c"/>
<rect x="414.4" y="369.71" width="9.45" height="9.44" fill="#f07c7c"/>
<rect x="422.85" y="369.71" width="9.45" height="9.44" fill="#f07c7c"/>
<rect x="431.3" y="369.71" width="9.45" height="9.44" fill="#f07c7c"/>
<rect x="439.75" y="369.71" width="9.45" height="9.44" fill="#c470b0"/>
<rect x="448.2" y="369.71" width="9.45" height="9.44" fill="#de78a0"/>
<rect x="456.65" y="369.71" width="8.45" height="9.44" fill="#de78a0"/>
<rect x="330.6" y="378.14" width="9.48" height="9.44" fill="#6054b2"/>
<rect x="339.08" y="378.14" width="9.47" height="9.44" fill="#705cb2"/>
<rect x="347.55" y="378.14" width="9.47" height="9.44" fill="#de78a0"/>
<rect x="356.02" y="378.14" width="9.48" height="9.44" fill="#6054b2"/>
<rect x="364.5" y="378.14" width="9.32" height="9.44" fill="#554ca8"/>
<rect x="372.82" y="378.14" width="9.32" height="9.44" fill="#554ca8"/>
<rect x="381.13" y="378.14" width="9.32" height="9.44" fill="#554ca8"/>
<rect x="389.45" y="378.14" width="9.32" height="9.44" fill="#554ca8"/>
<rect x="397.77" y="378.14" width="9.32" height="9.44" fill="#554ca8"/>
<rect x="406.08" y="378.14" width="9.32" height="9.44" fill="#554ca8"/>
<rect x="414.4" y="378.14" width="9.45" height="9.44" fill="#705cb2"/>
<rect x="422.85" y="378.14" width="9.45" height="9.44" fill="#705cb2"/>
<rect x="431.3" y="378.14" width="9.45" height="9.44" fill="#705cb2"/>
<rect x="439.75" y="378.14" width="9.45" height="9.44" fill="#705cb2"/>
<rect x="448.2" y="378.14" width="9.45" height="9.44" fill="#8864b6"/>
<rect x="456.65" y="378.14" width="8.45" height="9.44" fill="#8864b6"/>
<rect x="330.6" y="386.58" width="9.48" height="9.44" fill="#6054b2"/>
<rect x="339.08" y="386.58" width="9.47" height="9.44" fill="#705cb2"/>
<rect x="347.55" y="386.58" width="9.47" height="9.44" fill="#de78a0"/>
<rect x="356.02" y="386.58" width="9.48" height="9.44" fill="#6054b2"/>
<rect x="364.5" y="386.58" width="9.32" height="9.44" fill="#a868b6"/>
<rect x="372.82" y="386.58" width="9.32" height="9.44" fill="#a868b6"/>
<rect x="381.13" y="386.58" width="9.32" height="9.44" fill="#8864b6"/>
<rect x="389.45" y="386.58" width="9.32" height="9.44" fill="#8864b6"/>
<rect x="397.77" y="386.58" width="9.32" height="9.44" fill="#8864b6"/>
<rect x="406.08" y="386.58" width="9.32" height="9.44" fill="#8864b6"/>
<rect x="414.4" y="386.58" width="9.45" height="9.44" fill="#c470b0"/>
<rect x="422.85" y="386.58" width="9.45" height="9.44" fill="#c470b0"/>
<rect x="431.3" y="386.58" width="9.45" height="9.44" fill="#705cb2"/>
<rect x="439.75" y="386.58" width="9.45" height="9.44" fill="#6054b2"/>
<rect x="448.2" y="386.58" width="9.45" height="9.44" fill="#6054b2"/>
<rect x="456.65" y="386.58" width="8.45" height="9.44" fill="#6054b2"/>
<rect x="330.6" y="395.01" width="9.48" height="9.44" fill="#6054b2"/>
<rect x="339.08" y="395.01" width="9.47" height="9.44" fill="#705cb2"/>
<rect x="347.55" y="395.01" width="9.47" height="9.44" fill="#de78a0"/>
<rect x="356.02" y="395.01" width="9.48" height="9.44" fill="#6054b2"/>
<rect x="364.5" y="395.01" width="9.32" height="9.44" fill="#705cb2"/>
<rect x="372.82" y="395.01" width="9.32" height="9.44" fill="#705cb2"/>
<rect x="381.13" y="395.01" width="9.32" height="9.44" fill="#705cb2"/>
<rect x="389.45" y="395.01" width="9.32" height="9.44" fill="#705cb2"/>
<rect x="397.77" y="395.01" width="9.32" height="9.44" fill="#705cb2"/>
<rect x="406.08" y="395.01" width="9.32" height="9.44" fill="#705cb2"/>
<rect x="414.4" y="395.01" width="9.45" height="9.44" fill="#554ca8"/>
<rect x="422.85" y="395.01" width="9.45" height="9.44" fill="#554ca8"/>
<rect x="431.3" y="395.01" width="9.45" height="9.44" fill="#554ca8"/>
<rect x="439.75" y="395.01" width="9.45" height="9.44" fill="#554ca8"/>
<rect x="448.2" y="395.01" width="9.45" height="9.44" fill="#554ca8"/>
<rect x="456.65" y="395.01" width="8.45" height="9.44" fill="#554ca8"/>
<rect x="330.6" y="403.45" width="9.48" height="9.44" fill="#6054b2"/>
<rect x="339.08" y="403.45" width="9.47" height="9.44" fill="#705cb2"/>
<rect x="347.55" y="403.45" width="9.47" height="9.44" fill="#de78a0"/>
<rect x="356.02" y="403.45" width="9.48" height="9.44" fill="#6054b2"/>
<rect x="364.5" y="403.45" width="9.32" height="9.44" fill="#f07c7c"/>
<rect x="372.82" y="403.45" width="9.32" height="9.44" fill="#f07c7c"/>
<rect x="381.13" y="403.45" width="9.32" height="9.44" fill="#f07c7c"/>
<rect x="389.45" y="403.45" width="9.32" height="9.44" fill="#f07c7c"/>
<rect x="397.77" y="403.45" width="9.32" height="9.44" fill="#ea7890"/>
<rect x="406.08" y="403.45" width="9.32" height="9.44" fill="#ea7890"/>
<rect x="414.4" y="403.45" width="9.45" height="9.44" fill="#554ca8"/>
<rect x="422.85" y="403.45" width="9.45" height="9.44" fill="#554ca8"/>
<rect x="431.3" y="403.45" width="9.45" height="9.44" fill="#554ca8"/>
<rect x="439.75" y="403.45" width="9.45" height="9.44" fill="#554ca8"/>
<rect x="448.2" y="403.45" width="9.45" height="9.44" fill="#554ca8"/>
<rect x="456.65" y="403.45" width="8.45" height="9.44" fill="#554ca8"/>
<rect x="330.6" y="411.89" width="9.48" height="9.44" fill="#6054b2"/>
<rect x="339.08" y="411.89" width="9.47" height="9.44" fill="#de78a0"/>
<rect x="347.55" y="411.89" width="9.47" height="9.44" fill="#de78a0"/>
<rect x="356.02" y="411.89" width="9.48" height="9.44" fill="#554ca8"/>
<rect x="364.5" y="411.89" width="9.32" height="9.44" fill="#6054b2"/>
<rect x="372.82" y="411.89" width="9.32" height="9.44" fill="#6054b2"/>
<rect x="381.13" y="411.89" width="9.32" height="9.44" fill="#6054b2"/>
<rect x="389.45" y="411.89" width="9.32" height="9.44" fill="#6054b2"/>
<rect x="397.77" y="411.89" width="9.32" height="9.44" fill="#f07c7c"/>
<rect x="406.08" y="411.89" width="9.32" height="9.44" fill="#f07c7c"/>
<rect x="414.4" y="411.89" width="9.45" height="9.44" fill="#705cb2"/>
<rect x="422.85" y="411.89" width="9.45" height="9.44" fill="#554ca8"/>
<rect x="431.3" y="411.89" width="9.45" height="9.44" fill="#554ca8"/>
<rect x="439.75" y="411.89" width="9.45" height="9.44" fill="#554ca8"/>
<rect x="448.2" y="411.89" width="9.45" height="9.44" fill="#554ca8"/>
<rect x="456.65" y="411.89" width="8.45" height="9.44" fill="#554ca8"/>
<rect x="330.6" y="420.32" width="9.48" height="9.44" fill="#6054b2"/>
<rect x="339.08" y="420.32" width="9.47" height="9.44" fill="#705cb2"/>
<rect x="347.55" y="420.32" width="9.47" height="9.44" fill="#de78a0"/>
<rect x="356.02" y="420.32" width="9.48" height="9.44" fill="#6054b2"/>
<rect x="364.5" y="420.32" width="9.32" height="9.44" fill="#8864b6"/>
<rect x="372.82" y="420.32" width="9.32" height="9.44" fill="#8864b6"/>
<rect x="381.13" y="420.32" width="9.32" height="9.44" fill="#8864b6"/>
<rect x="389.45" y="420.32" width="9.32" height="9.44" fill="#8864b6"/>
<rect x="397.77" y="420.32" width="9.32" height="9.44" fill="#f07c7c"/>
<rect x="406.08" y="420.32" width="9.32" height="9.44" fill="#f07c7c"/>
<rect x="414.4" y="420.32" width="9.45" height="9.44" fill="#f07c7c"/>
<rect x="422.85" y="420.32" width="9.45" height="9.44" fill="#f07c7c"/>
<rect x="431.3" y="420.32" width="9.45" height="9.44" fill="#f07c7c"/>
<rect x="439.75" y="420.32" width="9.45" height="9.44" fill="#c470b0"/>
<rect x="448.2" y="420.32" width="9.45" height="9.44" fill="#ea7890"/>
<rect x="456.65" y="420.32" width="8.45" height="9.44" fill="#c470b0"/>
<rect x="330.6" y="428.76" width="9.48" height="9.44" fill="#6054b2"/>
<rect x="339.08" y="428.76" width="9.47" height="9.44" fill="#705cb2"/>
<rect x="347.55" y="428.76" width="9.47" height="9.44" fill="#de78a0"/>
<rect x="356.02" y="428.76" width="9.48" height="9.44" fill="#6054b2"/>
<rect x="364.5" y="428.76" width="9.32" height="9.44" fill="#f07c7c"/>
<rect x="372.82" y="428.76" width="9.32" height="9.44" fill="#f07c7c"/>
<rect x="381.13" y="428.76" width="9.32" height="9.44" fill="#f07c7c"/>
<rect x="389.45" y="428.76" width="9.32" height="9.44" fill="#f07c7c"/>
<rect x="397.77" y="428.76" width="9.32" height="9.44" fill="#f07c7c"/>
<rect x="406.08" y="428.76" width="9.32" height="9.44" fill="#f07c7c"/>
<rect x="414.4" y="428.76" width="9.45" height="9.44" fill="#f07c7c"/>
<rect x="422.85" y="428.76" width="9.45" height="9.44" fill="#f07c7c"/>
<rect x="431.3" y="428.76" width="9.45" height="9.44" fill="#f07c7c"/>
<rect x="439.75" y="428.76" width="9.45" height="9.44" fill="#f07c7c"/>
<rect x="448.2" y="428.76" width="9.45" height="9.44" fill="#c470b0"/>
<rect x="456.65" y="428.76" width="8.45" height="9.44" fill="#c470b0"/>
<rect x="330.6" y="437.19" width="9.48" height="9.44" fill="#6054b2"/>
<rect x="339.08" y="437.19" width="9.47" height="9.44" fill="#705cb2"/>
<rect x="347.55" y="437.19" width="9.47" height="9.44" fill="#de78a0"/>
<rect x="356.02" y="437.19" width="9.48" height="9.44" fill="#6054b2"/>
<rect x="364.5" y="437.19" width="9.32" height="9.44" fill="#f07c7c"/>
<rect x="372.82" y="437.19" width="9.32" height="9.44" fill="#f07c7c"/>
<rect x="381.13" y="437.19" width="9.32" height="9.44" fill="#f07c7c"/>
<rect x="389.45" y="437.19" width="9.32" height="9.44" fill="#f07c7c"/>
<rect x="397.77" y="437.19" width="9.32" height="9.44" fill="#c470b0"/>
<rect x="406.08" y="437.19" width="9.32" height="9.44" fill="#8864b6"/>
<rect x="414.4" y="437.19" width="9.45" height="9.44" fill="#f07c7c"/>
<rect x="422.85" y="437.19" width="9.45" height="9.44" fill="#f07c7c"/>
<rect x="431.3" y="437.19" width="9.45" height="9.44" fill="#f07c7c"/>
<rect x="439.75" y="437.19" width="9.45" height="9.44" fill="#f07c7c"/>
<rect x="448.2" y="437.19" width="9.45" height="9.44" fill="#f07c7c"/>
<rect x="456.65" y="437.19" width="8.45" height="9.44" fill="#f07c7c"/>
<rect x="330.6" y="445.63" width="9.48" height="9.44" fill="#6054b2"/>
<rect x="339.08" y="445.63" width="9.47" height="9.44" fill="#705cb2"/>
<rect x="347.55" y="445.63" width="9.47" height="9.44" fill="#de78a0"/>
<rect x="356.02" y="445.63" width="9.48" height="9.44" fill="#6054b2"/>
<rect x="364.5" y="445.63" width="9.32" height="9.44" fill="#b20c18"/>
<rect x="372.82" y="445.63" width="9.32" height="9.44" fill="#c41e26"/>
<rect x="381.13" y="445.63" width="9.32" height="9.44" fill="#dc4444"/>
<rect x="389.45" y="445.63" width="9.32" height="9.44" fill="#dc4444"/>
<rect x="397.77" y="445.63" width="9.32" height="9.44" fill="#dc4444"/>
<rect x="406.08" y="445.63" width="9.32" height="9.44" fill="#b20c18"/>
<rect x="414.4" y="445.63" width="9.45" height="9.44" fill="#6054b2"/>
<rect x="422.85" y="445.63" width="9.45" height="9.44" fill="#6054b2"/>
<rect x="431.3" y="445.63" width="9.45" height="9.44" fill="#6054b2"/>
<rect x="439.75" y="445.63" width="9.45" height="9.44" fill="#6054b2"/>
<rect x="448.2" y="445.63" width="9.45" height="9.44" fill="#6054b2"/>
<rect x="456.65" y="445.63" width="8.45" height="9.44" fill="#6054b2"/>
<rect x="330.6" y="454.06" width="9.48" height="8.44" fill="#6054b2"/>
<rect x="339.08" y="454.06" width="9.47" height="8.44" fill="#705cb2"/>
<rect x="347.55" y="454.06" width="9.47" height="8.44" fill="#de78a0"/>
<rect x="356.02" y="454.06" width="9.48" height="8.44" fill="#6054b2"/>
<rect x="364.5" y="454.06" width="9.32" height="8.44" fill="#f07c7c"/>
<rect x="372.82" y="454.06" width="9.32" height="8.44" fill="#f07c7c"/>
<rect x="381.13" y="454.06" width="9.32" height="8.44" fill="#f07c7c"/>
<rect x="389.45" y="454.06" width="9.32" height="8.44" fill="#f07c7c"/>
<rect x="397.77" y="454.06" width="9.32" height="8.44" fill="#f07c7c"/>
<rect x="406.08" y="454.06" width="9.32" height="8.44" fill="#f07c7c"/>
<rect x="414.4" y="454.06" width="9.45" height="8.44" fill="#f07c7c"/>
<rect x="422.85" y="454.06" width="9.45" height="8.44" fill="#f07c7c"/>
<rect x="431.3" y="454.06" width="9.45" height="8.44" fill="#f07c7c"/>
<rect x="439.75" y="454.06" width="9.45" height="8.44" fill="#f07c7c"/>
<rect x="448.2" y="454.06" width="9.45" height="8.44" fill="#f07c7c"/>
<rect x="456.65" y="454.06" width="8.45" height="8.44" fill="#f07c7c"/>
<line x1="330.6" y1="338" x2="330.6" y2="462.5" stroke="#1e1b44" stroke-width="0.9"/>
<line x1="364.5" y1="338" x2="364.5" y2="462.5" stroke="#1e1b44" stroke-width="0.9"/>
<line x1="414.4" y1="338" x2="414.4" y2="462.5" stroke="#1e1b44" stroke-width="0.9"/>
<line x1="465.1" y1="338" x2="465.1" y2="462.5" stroke="#1e1b44" stroke-width="0.9"/>
<text x="39.6" y="350.82" font-size="6.1" fill="#2a2a2a" text-anchor="end" stroke="#2a2a2a" stroke-width="0.05">IL-1β</text>
<line x1="41.4" y1="348.62" x2="44.8" y2="348.62" stroke="#333" stroke-width="0.8"/>
<text x="39.6" y="359.25" font-size="6.1" fill="#2a2a2a" text-anchor="end" stroke="#2a2a2a" stroke-width="0.05">IL-6</text>
<line x1="41.4" y1="357.05" x2="44.8" y2="357.05" stroke="#333" stroke-width="0.8"/>
<text x="39.6" y="367.69" font-size="6.1" fill="#2a2a2a" text-anchor="end" stroke="#2a2a2a" stroke-width="0.05">TNF-α</text>
<line x1="41.4" y1="365.49" x2="44.8" y2="365.49" stroke="#333" stroke-width="0.8"/>
<text x="39.6" y="376.12" font-size="6.1" fill="#2a2a2a" text-anchor="end" stroke="#2a2a2a" stroke-width="0.05">INF-γ</text>
<line x1="41.4" y1="373.92" x2="44.8" y2="373.92" stroke="#333" stroke-width="0.8"/>
<text x="39.6" y="384.56" font-size="6.1" fill="#2a2a2a" text-anchor="end" stroke="#2a2a2a" stroke-width="0.05">IL-12b</text>
<line x1="41.4" y1="382.36" x2="44.8" y2="382.36" stroke="#333" stroke-width="0.8"/>
<text x="39.6" y="393" font-size="6.1" fill="#2a2a2a" text-anchor="end" stroke="#2a2a2a" stroke-width="0.05">IL-23</text>
<line x1="41.4" y1="390.8" x2="44.8" y2="390.8" stroke="#333" stroke-width="0.8"/>
<text x="39.6" y="401.43" font-size="6.1" fill="#2a2a2a" text-anchor="end" stroke="#2a2a2a" stroke-width="0.05">CCL-2</text>
<line x1="41.4" y1="399.23" x2="44.8" y2="399.23" stroke="#333" stroke-width="0.8"/>
<text x="39.6" y="409.87" font-size="6.1" fill="#2a2a2a" text-anchor="end" stroke="#2a2a2a" stroke-width="0.05">GMCSF</text>
<line x1="41.4" y1="407.67" x2="44.8" y2="407.67" stroke="#333" stroke-width="0.8"/>
<text x="39.6" y="418.3" font-size="6.1" fill="#2a2a2a" text-anchor="end" stroke="#2a2a2a" stroke-width="0.05">IL-10</text>
<line x1="41.4" y1="416.1" x2="44.8" y2="416.1" stroke="#333" stroke-width="0.8"/>
<text x="39.6" y="426.74" font-size="6.1" fill="#2a2a2a" text-anchor="end" stroke="#2a2a2a" stroke-width="0.05">TGF</text>
<line x1="41.4" y1="424.54" x2="44.8" y2="424.54" stroke="#333" stroke-width="0.8"/>
<text x="39.6" y="435.18" font-size="6.1" fill="#2a2a2a" text-anchor="end" stroke="#2a2a2a" stroke-width="0.05">T-Bet</text>
<line x1="41.4" y1="432.98" x2="44.8" y2="432.98" stroke="#333" stroke-width="0.8"/>
<text x="39.6" y="443.61" font-size="6.1" fill="#2a2a2a" text-anchor="end" stroke="#2a2a2a" stroke-width="0.05">RoR-gT</text>
<line x1="41.4" y1="441.41" x2="44.8" y2="441.41" stroke="#333" stroke-width="0.8"/>
<text x="39.6" y="452.05" font-size="6.1" fill="#2a2a2a" text-anchor="end" stroke="#2a2a2a" stroke-width="0.05">GATA-3</text>
<line x1="41.4" y1="449.85" x2="44.8" y2="449.85" stroke="#333" stroke-width="0.8"/>
<text x="39.6" y="460.48" font-size="6.1" fill="#2a2a2a" text-anchor="end" stroke="#2a2a2a" stroke-width="0.05">FoxP-3</text>
<line x1="41.4" y1="458.28" x2="44.8" y2="458.28" stroke="#333" stroke-width="0.8"/>
<text x="19.4" y="319.3" font-size="8.6" fill="#111" textLength="22.4" lengthAdjust="spacingAndGlyphs" stroke="#111" stroke-width="0.2">Day 7</text>
<text x="85.7" y="319.2" font-size="8.7" fill="#111" textLength="56.5" lengthAdjust="spacingAndGlyphs" stroke="#111" stroke-width="0.2">Small intestine</text>
<line x1="85.7" y1="320.4" x2="142.2" y2="320.4" stroke="#444" stroke-width="0.65"/>
<text x="227.4" y="319.2" font-size="8.7" fill="#111" textLength="56.5" lengthAdjust="spacingAndGlyphs" stroke="#111" stroke-width="0.2">Large intestine</text>
<line x1="227.4" y1="320.4" x2="283.9" y2="320.4" stroke="#444" stroke-width="0.65"/>
<text x="382.7" y="319.2" font-size="8.7" fill="#111" textLength="18.3" lengthAdjust="spacingAndGlyphs" stroke="#111" stroke-width="0.2">Liver</text>
<line x1="382.7" y1="320.4" x2="401" y2="320.4" stroke="#444" stroke-width="0.65"/>
<text x="54.3" y="342" font-size="8.6" fill="#111" textLength="12.4" lengthAdjust="spacingAndGlyphs" stroke="#111" stroke-width="0.15">BM</text>
<text x="83.3" y="342" font-size="8.6" fill="#111" textLength="36.6" lengthAdjust="spacingAndGlyphs" stroke="#111" stroke-width="0.15">BM + spln</text>
<text x="130.8" y="334.6" font-size="8.6" fill="#111" textLength="41.7" lengthAdjust="spacingAndGlyphs" stroke="#111" stroke-width="0.15">SA-FasL-spl</text>
<text x="141.7" y="341.6" font-size="8.6" fill="#111" textLength="20.4" lengthAdjust="spacingAndGlyphs" stroke="#111" stroke-width="0.15">+ BM</text>
<text x="197.6" y="342" font-size="8.6" fill="#111" textLength="12.4" lengthAdjust="spacingAndGlyphs" stroke="#111" stroke-width="0.15">BM</text>
<text x="226.6" y="342" font-size="8.6" fill="#111" textLength="36.6" lengthAdjust="spacingAndGlyphs" stroke="#111" stroke-width="0.15">BM + spln</text>
<text x="274.1" y="334.6" font-size="8.6" fill="#111" textLength="41.7" lengthAdjust="spacingAndGlyphs" stroke="#111" stroke-width="0.15">SA-FasL-spl</text>
<text x="285" y="341.6" font-size="8.6" fill="#111" textLength="20.4" lengthAdjust="spacingAndGlyphs" stroke="#111" stroke-width="0.15">+ BM</text>
<text x="340.1" y="342" font-size="8.6" fill="#111" textLength="12.4" lengthAdjust="spacingAndGlyphs" stroke="#111" stroke-width="0.15">BM</text>
<text x="369.1" y="342" font-size="8.6" fill="#111" textLength="36.6" lengthAdjust="spacingAndGlyphs" stroke="#111" stroke-width="0.15">BM + spln</text>
<text x="416.6" y="334.6" font-size="8.6" fill="#111" textLength="41.7" lengthAdjust="spacingAndGlyphs" stroke="#111" stroke-width="0.15">SA-FasL-spl</text>
<text x="427.5" y="341.6" font-size="8.6" fill="#111" textLength="20.4" lengthAdjust="spacingAndGlyphs" stroke="#111" stroke-width="0.15">+ BM</text>
<defs><linearGradient id="cb" x1="0" y1="1" x2="0" y2="0">
<stop offset="0" stop-color="#4a3d8c"/>
<stop offset="0.025" stop-color="#9a5aa0"/>
<stop offset="0.055" stop-color="#f27670"/>
<stop offset="0.1" stop-color="#f27270"/>
<stop offset="0.33" stop-color="#e65a5a"/>
<stop offset="0.5" stop-color="#da4a4c"/>
<stop offset="0.67" stop-color="#cc3438"/>
<stop offset="0.83" stop-color="#bc1e26"/>
<stop offset="1" stop-color="#a30a16"/>
</linearGradient></defs>
<rect x="477.3" y="344.6" width="11.4" height="118" fill="url(#cb)" stroke="#3a2030" stroke-width="0.6"/>
<line x1="477.3" y1="443" x2="478.9" y2="443" stroke="#3a1a22" stroke-width="0.9"/>
<line x1="487.1" y1="443" x2="488.7" y2="443" stroke="#3a1a22" stroke-width="0.9"/>
<text x="493" y="445.2" font-size="6.1" fill="#222" stroke="#222" stroke-width="0.15">50</text>
<line x1="477.3" y1="423.4" x2="478.9" y2="423.4" stroke="#3a1a22" stroke-width="0.9"/>
<line x1="487.1" y1="423.4" x2="488.7" y2="423.4" stroke="#3a1a22" stroke-width="0.9"/>
<text x="493" y="425.6" font-size="6.1" fill="#222" stroke="#222" stroke-width="0.15">100</text>
<line x1="477.3" y1="403.8" x2="478.9" y2="403.8" stroke="#3a1a22" stroke-width="0.9"/>
<line x1="487.1" y1="403.8" x2="488.7" y2="403.8" stroke="#3a1a22" stroke-width="0.9"/>
<text x="493" y="406" font-size="6.1" fill="#222" stroke="#222" stroke-width="0.15">150</text>
<line x1="477.3" y1="384.2" x2="478.9" y2="384.2" stroke="#3a1a22" stroke-width="0.9"/>
<line x1="487.1" y1="384.2" x2="488.7" y2="384.2" stroke="#3a1a22" stroke-width="0.9"/>
<text x="493" y="386.4" font-size="6.1" fill="#222" stroke="#222" stroke-width="0.15">200</text>
<line x1="477.3" y1="364.6" x2="478.9" y2="364.6" stroke="#3a1a22" stroke-width="0.9"/>
<line x1="487.1" y1="364.6" x2="488.7" y2="364.6" stroke="#3a1a22" stroke-width="0.9"/>
<text x="493" y="366.8" font-size="6.1" fill="#222" stroke="#222" stroke-width="0.15">250</text>
<line x1="477.3" y1="345" x2="478.9" y2="345" stroke="#3a1a22" stroke-width="0.9"/>
<line x1="487.1" y1="345" x2="488.7" y2="345" stroke="#3a1a22" stroke-width="0.9"/>
<text x="493" y="347.2" font-size="6.1" fill="#222" stroke="#222" stroke-width="0.15">300</text>
</svg>
<div class="frame"></div>
</body></html>
